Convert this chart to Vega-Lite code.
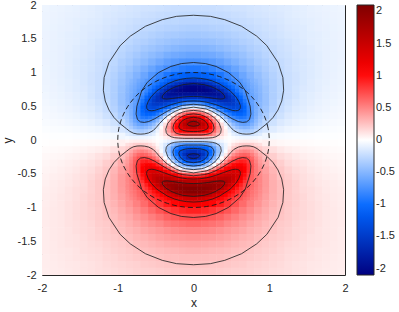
{
"$schema":"https://vega.github.io/schema/vega-lite/v6.json",
"width":303,"height":270,
"autosize":{"type":"none"},
"padding":{"left":42,"top":5,"right":54,"bottom":37},
"config":{
"font":"Liberation Sans",
"view":{"stroke":"#262626","strokeWidth":1},
"axis":{"grid":false,"ticks":false,"domain":false,"labelFont":"Liberation Sans","labelFontSize":11,"labelColor":"#262626","labelPadding":7,"titleFont":"Liberation Sans","titleFontSize":12,"titleFontWeight":"normal","titleColor":"#262626"},
"axisX":{"titlePadding":4},
"axisY":{"labelPadding":6,"titlePadding":3},
"legend":{"orient":"right","offset":12,"padding":0,"gradientLength":270,"gradientThickness":17,"gradientStrokeColor":"#262626","gradientStrokeWidth":1,"labelFont":"Liberation Sans","labelFontSize":11,"labelColor":"#262626","labelOffset":4},
"locale":{"number":{"decimal":".","thousands":",","grouping":[3],"currency":["$",""],"minus":"-"}}
},
"datasets":{
"coarse":[
{"y":1.9,"y2":2.008,"a":[-2,-1.9,-1.8,-1.7,-1.6,-1.5,-1.4,-1.3,-1.2,-1.1,-1,-0.9,-0.8,-0.7,-0.6,-0.5,-0.4,-0.3,-0.2,-0.1,0,0.1,0.2,0.3,0.4,0.5,0.6,0.7,0.8,0.9,1,1.1,1.2,1.3,1.4,1.5,1.6,1.7,1.8,1.9],"b":[-1.893,-1.793,-1.693,-1.593,-1.493,-1.393,-1.293,-1.193,-1.093,-0.993,-0.893,-0.793,-0.693,-0.593,-0.493,-0.393,-0.293,-0.193,-0.093,0.007,0.107,0.207,0.307,0.407,0.507,0.607,0.707,0.807,0.907,1.007,1.107,1.207,1.307,1.407,1.507,1.607,1.707,1.807,1.907,2.007],"v":[-0.071,-0.077,-0.084,-0.091,-0.099,-0.11,-0.12,-0.13,-0.14,-0.15,-0.16,-0.17,-0.18,-0.19,-0.195,-0.2,-0.21,-0.22,-0.22,-0.22,-0.22,-0.22,-0.22,-0.21,-0.2,-0.195,-0.19,-0.18,-0.17,-0.16,-0.15,-0.14,-0.13,-0.12,-0.11,-0.099,-0.091,-0.084,-0.077,-0.071]},
{"y":1.8,"y2":1.908,"a":[-2,-1.9,-1.8,-1.7,-1.6,-1.5,-1.4,-1.3,-1.2,-1.1,-1,-0.9,-0.8,-0.7,-0.6,-0.5,-0.4,-0.3,-0.2,-0.1,0,0.1,0.2,0.3,0.4,0.5,0.6,0.7,0.8,0.9,1,1.1,1.2,1.3,1.4,1.5,1.6,1.7,1.8,1.9],"b":[-1.893,-1.793,-1.693,-1.593,-1.493,-1.393,-1.293,-1.193,-1.093,-0.993,-0.893,-0.793,-0.693,-0.593,-0.493,-0.393,-0.293,-0.193,-0.093,0.007,0.107,0.207,0.307,0.407,0.507,0.607,0.707,0.807,0.907,1.007,1.107,1.207,1.307,1.407,1.507,1.607,1.707,1.807,1.907,2.007],"v":[-0.073,-0.08,-0.087,-0.095,-0.1,-0.11,-0.12,-0.13,-0.15,-0.16,-0.17,-0.18,-0.19,-0.21,-0.22,-0.23,-0.24,-0.24,-0.25,-0.25,-0.25,-0.25,-0.24,-0.24,-0.23,-0.22,-0.21,-0.19,-0.18,-0.17,-0.16,-0.15,-0.13,-0.12,-0.11,-0.1,-0.095,-0.087,-0.08,-0.073]},
{"y":1.7,"y2":1.808,"a":[-2,-1.9,-1.8,-1.7,-1.6,-1.5,-1.4,-1.3,-1.2,-1.1,-1,-0.9,-0.8,-0.7,-0.6,-0.5,-0.4,-0.3,-0.2,-0.1,0,0.1,0.2,0.3,0.4,0.5,0.6,0.7,0.8,0.9,1,1.1,1.2,1.3,1.4,1.5,1.6,1.7,1.8,1.9],"b":[-1.893,-1.793,-1.693,-1.593,-1.493,-1.393,-1.293,-1.193,-1.093,-0.993,-0.893,-0.793,-0.693,-0.593,-0.493,-0.393,-0.293,-0.193,-0.093,0.007,0.107,0.207,0.307,0.407,0.507,0.607,0.707,0.807,0.907,1.007,1.107,1.207,1.307,1.407,1.507,1.607,1.707,1.807,1.907,2.007],"v":[-0.075,-0.082,-0.091,-0.1,-0.11,-0.12,-0.13,-0.14,-0.16,-0.17,-0.19,-0.2,-0.22,-0.23,-0.24,-0.26,-0.27,-0.27,-0.28,-0.28,-0.28,-0.28,-0.27,-0.27,-0.26,-0.24,-0.23,-0.22,-0.2,-0.19,-0.17,-0.16,-0.14,-0.13,-0.12,-0.11,-0.1,-0.091,-0.082,-0.075]},
{"y":1.6,"y2":1.708,"a":[-2,-1.9,-1.8,-1.7,-1.6,-1.5,-1.4,-1.3,-1.2,-1.1,-1,-0.9,-0.8,-0.7,-0.6,-0.5,-0.4,-0.3,-0.2,-0.1,0,0.1,0.2,0.3,0.4,0.5,0.6,0.7,0.8,0.9,1,1.1,1.2,1.3,1.4,1.5,1.6,1.7,1.8,1.9],"b":[-1.893,-1.793,-1.693,-1.593,-1.493,-1.393,-1.293,-1.193,-1.093,-0.993,-0.893,-0.793,-0.693,-0.593,-0.493,-0.393,-0.293,-0.193,-0.093,0.007,0.107,0.207,0.307,0.407,0.507,0.607,0.707,0.807,0.907,1.007,1.107,1.207,1.307,1.407,1.507,1.607,1.707,1.807,1.907,2.007],"v":[-0.077,-0.085,-0.094,-0.1,-0.11,-0.13,-0.14,-0.15,-0.17,-0.19,-0.2,-0.22,-0.24,-0.26,-0.27,-0.29,-0.3,-0.31,-0.32,-0.33,-0.33,-0.32,-0.31,-0.3,-0.29,-0.27,-0.26,-0.24,-0.22,-0.2,-0.19,-0.17,-0.15,-0.14,-0.13,-0.11,-0.1,-0.094,-0.085,-0.077]},
{"y":1.5,"y2":1.608,"a":[-2,-1.9,-1.8,-1.7,-1.6,-1.5,-1.4,-1.3,-1.2,-1.1,-1,-0.9,-0.8,-0.7,-0.6,-0.5,-0.4,-0.3,-0.2,-0.1,0,0.1,0.2,0.3,0.4,0.5,0.6,0.7,0.8,0.9,1,1.1,1.2,1.3,1.4,1.5,1.6,1.7,1.8,1.9],"b":[-1.893,-1.793,-1.693,-1.593,-1.493,-1.393,-1.293,-1.193,-1.093,-0.993,-0.893,-0.793,-0.693,-0.593,-0.493,-0.393,-0.293,-0.193,-0.093,0.007,0.107,0.207,0.307,0.407,0.507,0.607,0.707,0.807,0.907,1.007,1.107,1.207,1.307,1.407,1.507,1.607,1.707,1.807,1.907,2.007],"v":[-0.079,-0.087,-0.097,-0.11,-0.12,-0.13,-0.15,-0.16,-0.18,-0.2,-0.22,-0.24,-0.27,-0.29,-0.31,-0.33,-0.35,-0.36,-0.37,-0.38,-0.38,-0.37,-0.36,-0.35,-0.33,-0.31,-0.29,-0.27,-0.24,-0.22,-0.2,-0.18,-0.16,-0.15,-0.13,-0.12,-0.11,-0.097,-0.087,-0.079]},
{"y":1.4,"y2":1.508,"a":[-2,-1.9,-1.8,-1.7,-1.6,-1.5,-1.4,-1.3,-1.2,-1.1,-1,-0.9,-0.8,-0.7,-0.6,-0.5,-0.4,-0.3,-0.2,-0.1,0,0.1,0.2,0.3,0.4,0.5,0.6,0.7,0.8,0.9,1,1.1,1.2,1.3,1.4,1.5,1.6,1.7,1.8,1.9],"b":[-1.893,-1.793,-1.693,-1.593,-1.493,-1.393,-1.293,-1.193,-1.093,-0.993,-0.893,-0.793,-0.693,-0.593,-0.493,-0.393,-0.293,-0.193,-0.093,0.007,0.107,0.207,0.307,0.407,0.507,0.607,0.707,0.807,0.907,1.007,1.107,1.207,1.307,1.407,1.507,1.607,1.707,1.807,1.907,2.007],"v":[-0.08,-0.089,-0.099,-0.11,-0.12,-0.14,-0.16,-0.18,-0.2,-0.22,-0.24,-0.27,-0.3,-0.32,-0.35,-0.38,-0.4,-0.42,-0.43,-0.44,-0.44,-0.43,-0.42,-0.4,-0.38,-0.35,-0.32,-0.3,-0.27,-0.24,-0.22,-0.2,-0.18,-0.16,-0.14,-0.12,-0.11,-0.099,-0.089,-0.08]},
{"y":1.3,"y2":1.408,"a":[-2,-1.9,-1.8,-1.7,-1.6,-1.5,-1.4,-1.3,-1.2,-1.1,-1,-0.9,-0.8,-0.7,-0.6,-0.5,-0.4,-0.3,-0.2,-0.1,0,0.1,0.2,0.3,0.4,0.5,0.6,0.7,0.8,0.9,1,1.1,1.2,1.3,1.4,1.5,1.6,1.7,1.8,1.9],"b":[-1.893,-1.793,-1.693,-1.593,-1.493,-1.393,-1.293,-1.193,-1.093,-0.993,-0.893,-0.793,-0.693,-0.593,-0.493,-0.393,-0.293,-0.193,-0.093,0.007,0.107,0.207,0.307,0.407,0.507,0.607,0.707,0.807,0.907,1.007,1.107,1.207,1.307,1.407,1.507,1.607,1.707,1.807,1.907,2.007],"v":[-0.08,-0.09,-0.1,-0.11,-0.13,-0.15,-0.16,-0.19,-0.21,-0.24,-0.27,-0.3,-0.33,-0.37,-0.4,-0.43,-0.46,-0.49,-0.51,-0.52,-0.52,-0.51,-0.49,-0.46,-0.43,-0.4,-0.37,-0.33,-0.3,-0.27,-0.24,-0.21,-0.19,-0.16,-0.15,-0.13,-0.11,-0.1,-0.09,-0.08]},
{"y":1.2,"y2":1.308,"a":[-2,-1.9,-1.8,-1.7,-1.6,-1.5,-1.4,-1.3,-1.2,-1.1,-1,-0.9,-0.8,-0.7,-0.6,-0.5,-0.4,-0.3,-0.2,-0.1,0,0.1,0.2,0.3,0.4,0.5,0.6,0.7,0.8,0.9,1,1.1,1.2,1.3,1.4,1.5,1.6,1.7,1.8,1.9],"b":[-1.893,-1.793,-1.693,-1.593,-1.493,-1.393,-1.293,-1.193,-1.093,-0.993,-0.893,-0.793,-0.693,-0.593,-0.493,-0.393,-0.293,-0.193,-0.093,0.007,0.107,0.207,0.307,0.407,0.507,0.607,0.707,0.807,0.907,1.007,1.107,1.207,1.307,1.407,1.507,1.607,1.707,1.807,1.907,2.007],"v":[-0.081,-0.091,-0.1,-0.12,-0.13,-0.15,-0.17,-0.2,-0.22,-0.26,-0.29,-0.33,-0.37,-0.42,-0.46,-0.5,-0.55,-0.58,-0.6,-0.62,-0.62,-0.6,-0.58,-0.55,-0.5,-0.46,-0.42,-0.37,-0.33,-0.29,-0.26,-0.22,-0.2,-0.17,-0.15,-0.13,-0.12,-0.1,-0.091,-0.081]},
{"y":1.1,"y2":1.208,"a":[-2,-1.9,-1.8,-1.7,-1.6,-1.5,-1.4,-1.3,-1.2,-1.1,-1,-0.9,-0.8,-0.7,-0.6,-0.5,-0.4,-0.3,-0.2,-0.1,0,0.1,0.2,0.3,0.4,0.5,0.6,0.7,0.8,0.9,1,1.1,1.2,1.3,1.4,1.5,1.6,1.7,1.8,1.9],"b":[-1.893,-1.793,-1.693,-1.593,-1.493,-1.393,-1.293,-1.193,-1.093,-0.993,-0.893,-0.793,-0.693,-0.593,-0.493,-0.393,-0.293,-0.193,-0.093,0.007,0.107,0.207,0.307,0.407,0.507,0.607,0.707,0.807,0.907,1.007,1.107,1.207,1.307,1.407,1.507,1.607,1.707,1.807,1.907,2.007],"v":[-0.08,-0.091,-0.1,-0.12,-0.14,-0.16,-0.18,-0.21,-0.24,-0.27,-0.32,-0.36,-0.42,-0.47,-0.53,-0.59,-0.65,-0.69,-0.73,-0.74,-0.74,-0.73,-0.69,-0.65,-0.59,-0.53,-0.47,-0.42,-0.36,-0.32,-0.27,-0.24,-0.21,-0.18,-0.16,-0.14,-0.12,-0.1,-0.091,-0.08]},
{"y":1,"y2":1.108,"a":[-2,-1.9,-1.8,-1.7,-1.6,-1.5,-1.4,-1.3,-1.2,-1.1,-1,-0.9,-0.8,-0.7,-0.6,-0.5,-0.4,-0.3,-0.2,-0.1,0,0.1,0.2,0.3,0.4,0.5,0.6,0.7,0.8,0.9,1,1.1,1.2,1.3,1.4,1.5,1.6,1.7,1.8,1.9],"b":[-1.893,-1.793,-1.693,-1.593,-1.493,-1.393,-1.293,-1.193,-1.093,-0.993,-0.893,-0.793,-0.693,-0.593,-0.493,-0.393,-0.293,-0.193,-0.093,0.007,0.107,0.207,0.307,0.407,0.507,0.607,0.707,0.807,0.907,1.007,1.107,1.207,1.307,1.407,1.507,1.607,1.707,1.807,1.907,2.007],"v":[-0.078,-0.09,-0.1,-0.12,-0.14,-0.16,-0.18,-0.21,-0.25,-0.29,-0.34,-0.4,-0.47,-0.54,-0.62,-0.7,-0.78,-0.84,-0.89,-0.92,-0.92,-0.89,-0.84,-0.78,-0.7,-0.62,-0.54,-0.47,-0.4,-0.34,-0.29,-0.25,-0.21,-0.18,-0.16,-0.14,-0.12,-0.1,-0.09,-0.078]},
{"y":0.9,"y2":1.008,"a":[-2,-1.9,-1.8,-1.7,-1.6,-1.5,-1.4,-1.3,-1.2,-1.1,-1,-0.9,-0.8,-0.7,-0.6,-0.5,-0.4,-0.3,-0.2,-0.1,0,0.1,0.2,0.3,0.4,0.5,0.6,0.7,0.8,0.9,1,1.1,1.2,1.3,1.4,1.5,1.6,1.7,1.8,1.9],"b":[-1.893,-1.793,-1.693,-1.593,-1.493,-1.393,-1.293,-1.193,-1.093,-0.993,-0.893,-0.793,-0.693,-0.593,-0.493,-0.393,-0.293,-0.193,-0.093,0.007,0.107,0.207,0.307,0.407,0.507,0.607,0.707,0.807,0.907,1.007,1.107,1.207,1.307,1.407,1.507,1.607,1.707,1.807,1.907,2.007],"v":[-0.076,-0.087,-0.1,-0.12,-0.14,-0.16,-0.19,-0.22,-0.26,-0.31,-0.37,-0.44,-0.52,-0.61,-0.72,-0.83,-0.94,-1.03,-1.09,-1.13,-1.13,-1.09,-1.03,-0.94,-0.83,-0.72,-0.61,-0.52,-0.44,-0.37,-0.31,-0.26,-0.22,-0.19,-0.16,-0.14,-0.12,-0.1,-0.087,-0.076]},
{"y":0.8,"y2":0.908,"a":[-2,-1.9,-1.8,-1.7,-1.6,-1.5,-1.4,-1.3,-1.2,-1.1,-1,0.9,1,1.1,1.2,1.3,1.4,1.5,1.6,1.7,1.8,1.9],"b":[-1.893,-1.793,-1.693,-1.593,-1.493,-1.393,-1.293,-1.193,-1.093,-0.993,-0.893,1.007,1.107,1.207,1.307,1.407,1.507,1.607,1.707,1.807,1.907,2.007],"v":[-0.073,-0.084,-0.098,-0.11,-0.13,-0.16,-0.19,-0.22,-0.27,-0.32,-0.39,-0.39,-0.32,-0.27,-0.22,-0.19,-0.16,-0.13,-0.11,-0.098,-0.084,-0.073]},
{"y":0.7,"y2":0.808,"a":[-2,-1.9,-1.8,-1.7,-1.6,-1.5,-1.4,-1.3,-1.2,-1.1,-1,0.9,1,1.1,1.2,1.3,1.4,1.5,1.6,1.7,1.8,1.9],"b":[-1.893,-1.793,-1.693,-1.593,-1.493,-1.393,-1.293,-1.193,-1.093,-0.993,-0.893,1.007,1.107,1.207,1.307,1.407,1.507,1.607,1.707,1.807,1.907,2.007],"v":[-0.068,-0.079,-0.092,-0.11,-0.13,-0.15,-0.18,-0.22,-0.27,-0.33,-0.41,-0.41,-0.33,-0.27,-0.22,-0.18,-0.15,-0.13,-0.11,-0.092,-0.079,-0.068]},
{"y":0.6,"y2":0.708,"a":[-2,-1.9,-1.8,-1.7,-1.6,-1.5,-1.4,-1.3,-1.2,-1.1,-1,0.9,1,1.1,1.2,1.3,1.4,1.5,1.6,1.7,1.8,1.9],"b":[-1.893,-1.793,-1.693,-1.593,-1.493,-1.393,-1.293,-1.193,-1.093,-0.993,-0.893,1.007,1.107,1.207,1.307,1.407,1.507,1.607,1.707,1.807,1.907,2.007],"v":[-0.062,-0.073,-0.085,-0.1,-0.12,-0.14,-0.18,-0.22,-0.27,-0.33,-0.42,-0.42,-0.33,-0.27,-0.22,-0.18,-0.14,-0.12,-0.1,-0.085,-0.073,-0.062]},
{"y":0.5,"y2":0.608,"a":[-2,-1.9,-1.8,-1.7,-1.6,-1.5,-1.4,-1.3,-1.2,-1.1,-1,0.9,1,1.1,1.2,1.3,1.4,1.5,1.6,1.7,1.8,1.9],"b":[-1.893,-1.793,-1.693,-1.593,-1.493,-1.393,-1.293,-1.193,-1.093,-0.993,-0.893,1.007,1.107,1.207,1.307,1.407,1.507,1.607,1.707,1.807,1.907,2.007],"v":[-0.055,-0.065,-0.076,-0.091,-0.11,-0.13,-0.16,-0.2,-0.25,-0.32,-0.42,-0.42,-0.32,-0.25,-0.2,-0.16,-0.13,-0.11,-0.091,-0.076,-0.065,-0.055]},
{"y":0.4,"y2":0.508,"a":[-2,-1.9,-1.8,-1.7,-1.6,-1.5,-1.4,-1.3,-1.2,-1.1,-1,0.9,1,1.1,1.2,1.3,1.4,1.5,1.6,1.7,1.8,1.9],"b":[-1.893,-1.793,-1.693,-1.593,-1.493,-1.393,-1.293,-1.193,-1.093,-0.993,-0.893,1.007,1.107,1.207,1.307,1.407,1.507,1.607,1.707,1.807,1.907,2.007],"v":[-0.047,-0.055,-0.066,-0.079,-0.095,-0.12,-0.14,-0.18,-0.23,-0.3,-0.39,-0.39,-0.3,-0.23,-0.18,-0.14,-0.12,-0.095,-0.079,-0.066,-0.055,-0.047]},
{"y":0.3,"y2":0.408,"a":[-2,-1.9,-1.8,-1.7,-1.6,-1.5,-1.4,-1.3,-1.2,-1.1,-1,0.9,1,1.1,1.2,1.3,1.4,1.5,1.6,1.7,1.8,1.9],"b":[-1.893,-1.793,-1.693,-1.593,-1.493,-1.393,-1.293,-1.193,-1.093,-0.993,-0.893,1.007,1.107,1.207,1.307,1.407,1.507,1.607,1.707,1.807,1.907,2.007],"v":[-0.038,-0.045,-0.054,-0.064,-0.078,-0.097,-0.12,-0.15,-0.2,-0.26,-0.35,-0.35,-0.26,-0.2,-0.15,-0.12,-0.097,-0.078,-0.064,-0.054,-0.045,-0.038]},
{"y":0.2,"y2":0.308,"a":[-2,-1.9,-1.8,-1.7,-1.6,-1.5,-1.4,-1.3,-1.2,-1.1,-1,0.9,1,1.1,1.2,1.3,1.4,1.5,1.6,1.7,1.8,1.9],"b":[-1.893,-1.793,-1.693,-1.593,-1.493,-1.393,-1.293,-1.193,-1.093,-0.993,-0.893,1.007,1.107,1.207,1.307,1.407,1.507,1.607,1.707,1.807,1.907,2.007],"v":[-0.028,-0.033,-0.039,-0.048,-0.058,-0.072,-0.091,-0.12,-0.15,-0.2,-0.27,-0.27,-0.2,-0.15,-0.12,-0.091,-0.072,-0.058,-0.048,-0.039,-0.033,-0.028]},
{"y":0.1,"y2":0.208,"a":[-2,-1.9,-1.8,-1.7,-1.6,-1.5,-1.4,-1.3,-1.2,-1.1,-1,0.9,1,1.1,1.2,1.3,1.4,1.5,1.6,1.7,1.8,1.9],"b":[-1.893,-1.793,-1.693,-1.593,-1.493,-1.393,-1.293,-1.193,-1.093,-0.993,-0.893,1.007,1.107,1.207,1.307,1.407,1.507,1.607,1.707,1.807,1.907,2.007],"v":[-0.017,-0.02,-0.024,-0.029,-0.036,-0.045,-0.056,-0.072,-0.095,-0.13,-0.17,-0.17,-0.13,-0.095,-0.072,-0.056,-0.045,-0.036,-0.029,-0.024,-0.02,-0.017]},
{"y":0,"y2":0.108,"a":[-2,-1.9,-1.8,-1.7,-1.6,-1.5,-1.4,-1.3,-1.2,-1.1,-1,0.9,1,1.1,1.2,1.3,1.4,1.5,1.6,1.7,1.8,1.9],"b":[-1.893,-1.793,-1.693,-1.593,-1.493,-1.393,-1.293,-1.193,-1.093,-0.993,-0.893,1.007,1.107,1.207,1.307,1.407,1.507,1.607,1.707,1.807,1.907,2.007],"v":[-0.006,-0.007,-0.008,-0.01,-0.012,-0.015,-0.019,-0.025,-0.032,-0.044,-0.06,-0.06,-0.044,-0.032,-0.025,-0.019,-0.015,-0.012,-0.01,-0.008,-0.007,-0.006]},
{"y":-0.1,"y2":0.008,"a":[-2,-1.9,-1.8,-1.7,-1.6,-1.5,-1.4,-1.3,-1.2,-1.1,-1,0.9,1,1.1,1.2,1.3,1.4,1.5,1.6,1.7,1.8,1.9],"b":[-1.893,-1.793,-1.693,-1.593,-1.493,-1.393,-1.293,-1.193,-1.093,-0.993,-0.893,1.007,1.107,1.207,1.307,1.407,1.507,1.607,1.707,1.807,1.907,2.007],"v":[0.006,0.007,0.008,0.01,0.012,0.015,0.019,0.025,0.032,0.044,0.06,0.06,0.044,0.032,0.025,0.019,0.015,0.012,0.01,0.008,0.007,0.006]},
{"y":-0.2,"y2":-0.092,"a":[-2,-1.9,-1.8,-1.7,-1.6,-1.5,-1.4,-1.3,-1.2,-1.1,-1,0.9,1,1.1,1.2,1.3,1.4,1.5,1.6,1.7,1.8,1.9],"b":[-1.893,-1.793,-1.693,-1.593,-1.493,-1.393,-1.293,-1.193,-1.093,-0.993,-0.893,1.007,1.107,1.207,1.307,1.407,1.507,1.607,1.707,1.807,1.907,2.007],"v":[0.017,0.02,0.024,0.029,0.036,0.045,0.056,0.072,0.095,0.13,0.17,0.17,0.13,0.095,0.072,0.056,0.045,0.036,0.029,0.024,0.02,0.017]},
{"y":-0.3,"y2":-0.192,"a":[-2,-1.9,-1.8,-1.7,-1.6,-1.5,-1.4,-1.3,-1.2,-1.1,-1,0.9,1,1.1,1.2,1.3,1.4,1.5,1.6,1.7,1.8,1.9],"b":[-1.893,-1.793,-1.693,-1.593,-1.493,-1.393,-1.293,-1.193,-1.093,-0.993,-0.893,1.007,1.107,1.207,1.307,1.407,1.507,1.607,1.707,1.807,1.907,2.007],"v":[0.028,0.033,0.039,0.048,0.058,0.072,0.091,0.12,0.15,0.2,0.27,0.27,0.2,0.15,0.12,0.091,0.072,0.058,0.048,0.039,0.033,0.028]},
{"y":-0.4,"y2":-0.292,"a":[-2,-1.9,-1.8,-1.7,-1.6,-1.5,-1.4,-1.3,-1.2,-1.1,-1,0.9,1,1.1,1.2,1.3,1.4,1.5,1.6,1.7,1.8,1.9],"b":[-1.893,-1.793,-1.693,-1.593,-1.493,-1.393,-1.293,-1.193,-1.093,-0.993,-0.893,1.007,1.107,1.207,1.307,1.407,1.507,1.607,1.707,1.807,1.907,2.007],"v":[0.038,0.045,0.054,0.064,0.078,0.097,0.12,0.15,0.2,0.26,0.35,0.35,0.26,0.2,0.15,0.12,0.097,0.078,0.064,0.054,0.045,0.038]},
{"y":-0.5,"y2":-0.392,"a":[-2,-1.9,-1.8,-1.7,-1.6,-1.5,-1.4,-1.3,-1.2,-1.1,-1,0.9,1,1.1,1.2,1.3,1.4,1.5,1.6,1.7,1.8,1.9],"b":[-1.893,-1.793,-1.693,-1.593,-1.493,-1.393,-1.293,-1.193,-1.093,-0.993,-0.893,1.007,1.107,1.207,1.307,1.407,1.507,1.607,1.707,1.807,1.907,2.007],"v":[0.047,0.055,0.066,0.079,0.095,0.12,0.14,0.18,0.23,0.3,0.39,0.39,0.3,0.23,0.18,0.14,0.12,0.095,0.079,0.066,0.055,0.047]},
{"y":-0.6,"y2":-0.492,"a":[-2,-1.9,-1.8,-1.7,-1.6,-1.5,-1.4,-1.3,-1.2,-1.1,-1,0.9,1,1.1,1.2,1.3,1.4,1.5,1.6,1.7,1.8,1.9],"b":[-1.893,-1.793,-1.693,-1.593,-1.493,-1.393,-1.293,-1.193,-1.093,-0.993,-0.893,1.007,1.107,1.207,1.307,1.407,1.507,1.607,1.707,1.807,1.907,2.007],"v":[0.055,0.065,0.076,0.091,0.11,0.13,0.16,0.2,0.25,0.32,0.42,0.42,0.32,0.25,0.2,0.16,0.13,0.11,0.091,0.076,0.065,0.055]},
{"y":-0.7,"y2":-0.592,"a":[-2,-1.9,-1.8,-1.7,-1.6,-1.5,-1.4,-1.3,-1.2,-1.1,-1,0.9,1,1.1,1.2,1.3,1.4,1.5,1.6,1.7,1.8,1.9],"b":[-1.893,-1.793,-1.693,-1.593,-1.493,-1.393,-1.293,-1.193,-1.093,-0.993,-0.893,1.007,1.107,1.207,1.307,1.407,1.507,1.607,1.707,1.807,1.907,2.007],"v":[0.062,0.073,0.085,0.1,0.12,0.14,0.18,0.22,0.27,0.33,0.42,0.42,0.33,0.27,0.22,0.18,0.14,0.12,0.1,0.085,0.073,0.062]},
{"y":-0.8,"y2":-0.692,"a":[-2,-1.9,-1.8,-1.7,-1.6,-1.5,-1.4,-1.3,-1.2,-1.1,-1,0.9,1,1.1,1.2,1.3,1.4,1.5,1.6,1.7,1.8,1.9],"b":[-1.893,-1.793,-1.693,-1.593,-1.493,-1.393,-1.293,-1.193,-1.093,-0.993,-0.893,1.007,1.107,1.207,1.307,1.407,1.507,1.607,1.707,1.807,1.907,2.007],"v":[0.068,0.079,0.092,0.11,0.13,0.15,0.18,0.22,0.27,0.33,0.41,0.41,0.33,0.27,0.22,0.18,0.15,0.13,0.11,0.092,0.079,0.068]},
{"y":-0.9,"y2":-0.792,"a":[-2,-1.9,-1.8,-1.7,-1.6,-1.5,-1.4,-1.3,-1.2,-1.1,-1,0.9,1,1.1,1.2,1.3,1.4,1.5,1.6,1.7,1.8,1.9],"b":[-1.893,-1.793,-1.693,-1.593,-1.493,-1.393,-1.293,-1.193,-1.093,-0.993,-0.893,1.007,1.107,1.207,1.307,1.407,1.507,1.607,1.707,1.807,1.907,2.007],"v":[0.073,0.084,0.098,0.11,0.13,0.16,0.19,0.22,0.27,0.32,0.39,0.39,0.32,0.27,0.22,0.19,0.16,0.13,0.11,0.098,0.084,0.073]},
{"y":-1,"y2":-0.892,"a":[-2,-1.9,-1.8,-1.7,-1.6,-1.5,-1.4,-1.3,-1.2,-1.1,-1,-0.9,-0.8,-0.7,-0.6,-0.5,-0.4,-0.3,-0.2,-0.1,0,0.1,0.2,0.3,0.4,0.5,0.6,0.7,0.8,0.9,1,1.1,1.2,1.3,1.4,1.5,1.6,1.7,1.8,1.9],"b":[-1.893,-1.793,-1.693,-1.593,-1.493,-1.393,-1.293,-1.193,-1.093,-0.993,-0.893,-0.793,-0.693,-0.593,-0.493,-0.393,-0.293,-0.193,-0.093,0.007,0.107,0.207,0.307,0.407,0.507,0.607,0.707,0.807,0.907,1.007,1.107,1.207,1.307,1.407,1.507,1.607,1.707,1.807,1.907,2.007],"v":[0.076,0.087,0.1,0.12,0.14,0.16,0.19,0.22,0.26,0.31,0.37,0.44,0.52,0.61,0.72,0.83,0.94,1.03,1.09,1.13,1.13,1.09,1.03,0.94,0.83,0.72,0.61,0.52,0.44,0.37,0.31,0.26,0.22,0.19,0.16,0.14,0.12,0.1,0.087,0.076]},
{"y":-1.1,"y2":-0.992,"a":[-2,-1.9,-1.8,-1.7,-1.6,-1.5,-1.4,-1.3,-1.2,-1.1,-1,-0.9,-0.8,-0.7,-0.6,-0.5,-0.4,-0.3,-0.2,-0.1,0,0.1,0.2,0.3,0.4,0.5,0.6,0.7,0.8,0.9,1,1.1,1.2,1.3,1.4,1.5,1.6,1.7,1.8,1.9],"b":[-1.893,-1.793,-1.693,-1.593,-1.493,-1.393,-1.293,-1.193,-1.093,-0.993,-0.893,-0.793,-0.693,-0.593,-0.493,-0.393,-0.293,-0.193,-0.093,0.007,0.107,0.207,0.307,0.407,0.507,0.607,0.707,0.807,0.907,1.007,1.107,1.207,1.307,1.407,1.507,1.607,1.707,1.807,1.907,2.007],"v":[0.078,0.09,0.1,0.12,0.14,0.16,0.18,0.21,0.25,0.29,0.34,0.4,0.47,0.54,0.62,0.7,0.78,0.84,0.89,0.92,0.92,0.89,0.84,0.78,0.7,0.62,0.54,0.47,0.4,0.34,0.29,0.25,0.21,0.18,0.16,0.14,0.12,0.1,0.09,0.078]},
{"y":-1.2,"y2":-1.092,"a":[-2,-1.9,-1.8,-1.7,-1.6,-1.5,-1.4,-1.3,-1.2,-1.1,-1,-0.9,-0.8,-0.7,-0.6,-0.5,-0.4,-0.3,-0.2,-0.1,0,0.1,0.2,0.3,0.4,0.5,0.6,0.7,0.8,0.9,1,1.1,1.2,1.3,1.4,1.5,1.6,1.7,1.8,1.9],"b":[-1.893,-1.793,-1.693,-1.593,-1.493,-1.393,-1.293,-1.193,-1.093,-0.993,-0.893,-0.793,-0.693,-0.593,-0.493,-0.393,-0.293,-0.193,-0.093,0.007,0.107,0.207,0.307,0.407,0.507,0.607,0.707,0.807,0.907,1.007,1.107,1.207,1.307,1.407,1.507,1.607,1.707,1.807,1.907,2.007],"v":[0.08,0.091,0.1,0.12,0.14,0.16,0.18,0.21,0.24,0.27,0.32,0.36,0.42,0.47,0.53,0.59,0.65,0.69,0.73,0.74,0.74,0.73,0.69,0.65,0.59,0.53,0.47,0.42,0.36,0.32,0.27,0.24,0.21,0.18,0.16,0.14,0.12,0.1,0.091,0.08]},
{"y":-1.3,"y2":-1.192,"a":[-2,-1.9,-1.8,-1.7,-1.6,-1.5,-1.4,-1.3,-1.2,-1.1,-1,-0.9,-0.8,-0.7,-0.6,-0.5,-0.4,-0.3,-0.2,-0.1,0,0.1,0.2,0.3,0.4,0.5,0.6,0.7,0.8,0.9,1,1.1,1.2,1.3,1.4,1.5,1.6,1.7,1.8,1.9],"b":[-1.893,-1.793,-1.693,-1.593,-1.493,-1.393,-1.293,-1.193,-1.093,-0.993,-0.893,-0.793,-0.693,-0.593,-0.493,-0.393,-0.293,-0.193,-0.093,0.007,0.107,0.207,0.307,0.407,0.507,0.607,0.707,0.807,0.907,1.007,1.107,1.207,1.307,1.407,1.507,1.607,1.707,1.807,1.907,2.007],"v":[0.081,0.091,0.1,0.12,0.13,0.15,0.17,0.2,0.22,0.26,0.29,0.33,0.37,0.42,0.46,0.5,0.55,0.58,0.6,0.62,0.62,0.6,0.58,0.55,0.5,0.46,0.42,0.37,0.33,0.29,0.26,0.22,0.2,0.17,0.15,0.13,0.12,0.1,0.091,0.081]},
{"y":-1.4,"y2":-1.292,"a":[-2,-1.9,-1.8,-1.7,-1.6,-1.5,-1.4,-1.3,-1.2,-1.1,-1,-0.9,-0.8,-0.7,-0.6,-0.5,-0.4,-0.3,-0.2,-0.1,0,0.1,0.2,0.3,0.4,0.5,0.6,0.7,0.8,0.9,1,1.1,1.2,1.3,1.4,1.5,1.6,1.7,1.8,1.9],"b":[-1.893,-1.793,-1.693,-1.593,-1.493,-1.393,-1.293,-1.193,-1.093,-0.993,-0.893,-0.793,-0.693,-0.593,-0.493,-0.393,-0.293,-0.193,-0.093,0.007,0.107,0.207,0.307,0.407,0.507,0.607,0.707,0.807,0.907,1.007,1.107,1.207,1.307,1.407,1.507,1.607,1.707,1.807,1.907,2.007],"v":[0.08,0.09,0.1,0.11,0.13,0.15,0.16,0.19,0.21,0.24,0.27,0.3,0.33,0.37,0.4,0.43,0.46,0.49,0.51,0.52,0.52,0.51,0.49,0.46,0.43,0.4,0.37,0.33,0.3,0.27,0.24,0.21,0.19,0.16,0.15,0.13,0.11,0.1,0.09,0.08]},
{"y":-1.5,"y2":-1.392,"a":[-2,-1.9,-1.8,-1.7,-1.6,-1.5,-1.4,-1.3,-1.2,-1.1,-1,-0.9,-0.8,-0.7,-0.6,-0.5,-0.4,-0.3,-0.2,-0.1,0,0.1,0.2,0.3,0.4,0.5,0.6,0.7,0.8,0.9,1,1.1,1.2,1.3,1.4,1.5,1.6,1.7,1.8,1.9],"b":[-1.893,-1.793,-1.693,-1.593,-1.493,-1.393,-1.293,-1.193,-1.093,-0.993,-0.893,-0.793,-0.693,-0.593,-0.493,-0.393,-0.293,-0.193,-0.093,0.007,0.107,0.207,0.307,0.407,0.507,0.607,0.707,0.807,0.907,1.007,1.107,1.207,1.307,1.407,1.507,1.607,1.707,1.807,1.907,2.007],"v":[0.08,0.089,0.099,0.11,0.12,0.14,0.16,0.18,0.2,0.22,0.24,0.27,0.3,0.32,0.35,0.38,0.4,0.42,0.43,0.44,0.44,0.43,0.42,0.4,0.38,0.35,0.32,0.3,0.27,0.24,0.22,0.2,0.18,0.16,0.14,0.12,0.11,0.099,0.089,0.08]},
{"y":-1.6,"y2":-1.492,"a":[-2,-1.9,-1.8,-1.7,-1.6,-1.5,-1.4,-1.3,-1.2,-1.1,-1,-0.9,-0.8,-0.7,-0.6,-0.5,-0.4,-0.3,-0.2,-0.1,0,0.1,0.2,0.3,0.4,0.5,0.6,0.7,0.8,0.9,1,1.1,1.2,1.3,1.4,1.5,1.6,1.7,1.8,1.9],"b":[-1.893,-1.793,-1.693,-1.593,-1.493,-1.393,-1.293,-1.193,-1.093,-0.993,-0.893,-0.793,-0.693,-0.593,-0.493,-0.393,-0.293,-0.193,-0.093,0.007,0.107,0.207,0.307,0.407,0.507,0.607,0.707,0.807,0.907,1.007,1.107,1.207,1.307,1.407,1.507,1.607,1.707,1.807,1.907,2.007],"v":[0.079,0.087,0.097,0.11,0.12,0.13,0.15,0.16,0.18,0.2,0.22,0.24,0.27,0.29,0.31,0.33,0.35,0.36,0.37,0.38,0.38,0.37,0.36,0.35,0.33,0.31,0.29,0.27,0.24,0.22,0.2,0.18,0.16,0.15,0.13,0.12,0.11,0.097,0.087,0.079]},
{"y":-1.7,"y2":-1.592,"a":[-2,-1.9,-1.8,-1.7,-1.6,-1.5,-1.4,-1.3,-1.2,-1.1,-1,-0.9,-0.8,-0.7,-0.6,-0.5,-0.4,-0.3,-0.2,-0.1,0,0.1,0.2,0.3,0.4,0.5,0.6,0.7,0.8,0.9,1,1.1,1.2,1.3,1.4,1.5,1.6,1.7,1.8,1.9],"b":[-1.893,-1.793,-1.693,-1.593,-1.493,-1.393,-1.293,-1.193,-1.093,-0.993,-0.893,-0.793,-0.693,-0.593,-0.493,-0.393,-0.293,-0.193,-0.093,0.007,0.107,0.207,0.307,0.407,0.507,0.607,0.707,0.807,0.907,1.007,1.107,1.207,1.307,1.407,1.507,1.607,1.707,1.807,1.907,2.007],"v":[0.077,0.085,0.094,0.1,0.11,0.13,0.14,0.15,0.17,0.19,0.2,0.22,0.24,0.26,0.27,0.29,0.3,0.31,0.32,0.33,0.33,0.32,0.31,0.3,0.29,0.27,0.26,0.24,0.22,0.2,0.19,0.17,0.15,0.14,0.13,0.11,0.1,0.094,0.085,0.077]},
{"y":-1.8,"y2":-1.692,"a":[-2,-1.9,-1.8,-1.7,-1.6,-1.5,-1.4,-1.3,-1.2,-1.1,-1,-0.9,-0.8,-0.7,-0.6,-0.5,-0.4,-0.3,-0.2,-0.1,0,0.1,0.2,0.3,0.4,0.5,0.6,0.7,0.8,0.9,1,1.1,1.2,1.3,1.4,1.5,1.6,1.7,1.8,1.9],"b":[-1.893,-1.793,-1.693,-1.593,-1.493,-1.393,-1.293,-1.193,-1.093,-0.993,-0.893,-0.793,-0.693,-0.593,-0.493,-0.393,-0.293,-0.193,-0.093,0.007,0.107,0.207,0.307,0.407,0.507,0.607,0.707,0.807,0.907,1.007,1.107,1.207,1.307,1.407,1.507,1.607,1.707,1.807,1.907,2.007],"v":[0.075,0.082,0.091,0.1,0.11,0.12,0.13,0.14,0.16,0.17,0.19,0.2,0.22,0.23,0.24,0.26,0.27,0.27,0.28,0.28,0.28,0.28,0.27,0.27,0.26,0.24,0.23,0.22,0.2,0.19,0.17,0.16,0.14,0.13,0.12,0.11,0.1,0.091,0.082,0.075]},
{"y":-1.9,"y2":-1.792,"a":[-2,-1.9,-1.8,-1.7,-1.6,-1.5,-1.4,-1.3,-1.2,-1.1,-1,-0.9,-0.8,-0.7,-0.6,-0.5,-0.4,-0.3,-0.2,-0.1,0,0.1,0.2,0.3,0.4,0.5,0.6,0.7,0.8,0.9,1,1.1,1.2,1.3,1.4,1.5,1.6,1.7,1.8,1.9],"b":[-1.893,-1.793,-1.693,-1.593,-1.493,-1.393,-1.293,-1.193,-1.093,-0.993,-0.893,-0.793,-0.693,-0.593,-0.493,-0.393,-0.293,-0.193,-0.093,0.007,0.107,0.207,0.307,0.407,0.507,0.607,0.707,0.807,0.907,1.007,1.107,1.207,1.307,1.407,1.507,1.607,1.707,1.807,1.907,2.007],"v":[0.073,0.08,0.087,0.095,0.1,0.11,0.12,0.13,0.15,0.16,0.17,0.18,0.19,0.21,0.22,0.23,0.24,0.24,0.25,0.25,0.25,0.25,0.24,0.24,0.23,0.22,0.21,0.19,0.18,0.17,0.16,0.15,0.13,0.12,0.11,0.1,0.095,0.087,0.08,0.073]},
{"y":-2,"y2":-1.892,"a":[-2,-1.9,-1.8,-1.7,-1.6,-1.5,-1.4,-1.3,-1.2,-1.1,-1,-0.9,-0.8,-0.7,-0.6,-0.5,-0.4,-0.3,-0.2,-0.1,0,0.1,0.2,0.3,0.4,0.5,0.6,0.7,0.8,0.9,1,1.1,1.2,1.3,1.4,1.5,1.6,1.7,1.8,1.9],"b":[-1.893,-1.793,-1.693,-1.593,-1.493,-1.393,-1.293,-1.193,-1.093,-0.993,-0.893,-0.793,-0.693,-0.593,-0.493,-0.393,-0.293,-0.193,-0.093,0.007,0.107,0.207,0.307,0.407,0.507,0.607,0.707,0.807,0.907,1.007,1.107,1.207,1.307,1.407,1.507,1.607,1.707,1.807,1.907,2.007],"v":[0.071,0.077,0.084,0.091,0.099,0.11,0.12,0.13,0.14,0.15,0.16,0.17,0.18,0.19,0.195,0.2,0.21,0.22,0.22,0.22,0.22,0.22,0.22,0.21,0.2,0.195,0.19,0.18,0.17,0.16,0.15,0.14,0.13,0.12,0.11,0.099,0.091,0.084,0.077,0.071]}
],
"fine":[
{"y":0.85,"y2":0.908,"a":[-0.9,-0.85,-0.8,-0.75,-0.7,-0.65,-0.6,-0.55,-0.5,-0.45,-0.4,-0.35,-0.3,-0.25,-0.2,-0.15,-0.1,-0.05,0,0.05,0.1,0.15,0.2,0.25,0.3,0.35,0.4,0.45,0.5,0.55,0.6,0.65,0.7,0.75,0.8,0.85],"b":[-0.843,-0.793,-0.743,-0.693,-0.643,-0.593,-0.543,-0.493,-0.443,-0.393,-0.343,-0.293,-0.243,-0.193,-0.143,-0.093,-0.043,0.007,0.057,0.107,0.157,0.207,0.257,0.307,0.357,0.407,0.457,0.507,0.557,0.607,0.657,0.707,0.757,0.807,0.857,0.907],"v":[-0.45,-0.49,-0.54,-0.59,-0.64,-0.7,-0.76,-0.82,-0.89,-0.96,-1.02,-1.11,-1.21,-1.29,-1.37,-1.44,-1.47,-1.5,-1.5,-1.47,-1.44,-1.37,-1.29,-1.21,-1.11,-1.02,-0.96,-0.89,-0.82,-0.76,-0.7,-0.64,-0.59,-0.54,-0.49,-0.45]},
{"y":0.8,"y2":0.858,"a":[-0.9,-0.85,-0.8,-0.75,-0.7,-0.65,-0.6,-0.55,-0.5,-0.45,-0.4,-0.35,-0.3,-0.25,-0.2,-0.15,-0.1,-0.05,0,0.05,0.1,0.15,0.2,0.25,0.3,0.35,0.4,0.45,0.5,0.55,0.6,0.65,0.7,0.75,0.8,0.85],"b":[-0.843,-0.793,-0.743,-0.693,-0.643,-0.593,-0.543,-0.493,-0.443,-0.393,-0.343,-0.293,-0.243,-0.193,-0.143,-0.093,-0.043,0.007,0.057,0.107,0.157,0.207,0.257,0.307,0.357,0.407,0.457,0.507,0.557,0.607,0.657,0.707,0.757,0.807,0.857,0.907],"v":[-0.46,-0.51,-0.56,-0.62,-0.68,-0.74,-0.81,-0.89,-0.97,-1.07,-1.2,-1.33,-1.45,-1.57,-1.67,-1.74,-1.79,-1.82,-1.82,-1.79,-1.74,-1.67,-1.57,-1.45,-1.33,-1.2,-1.07,-0.97,-0.89,-0.81,-0.74,-0.68,-0.62,-0.56,-0.51,-0.46]},
{"y":0.75,"y2":0.808,"a":[-0.9,-0.85,-0.8,-0.75,-0.7,-0.65,-0.6,-0.55,-0.5,-0.45,-0.4,-0.35,-0.3,-0.25,-0.2,-0.15,-0.1,-0.05,0,0.05,0.1,0.15,0.2,0.25,0.3,0.35,0.4,0.45,0.5,0.55,0.6,0.65,0.7,0.75,0.8,0.85],"b":[-0.843,-0.793,-0.743,-0.693,-0.643,-0.593,-0.543,-0.493,-0.443,-0.393,-0.343,-0.293,-0.243,-0.193,-0.143,-0.093,-0.043,0.007,0.057,0.107,0.157,0.207,0.257,0.307,0.357,0.407,0.457,0.507,0.557,0.607,0.657,0.707,0.757,0.807,0.857,0.907],"v":[-0.48,-0.53,-0.58,-0.64,-0.71,-0.79,-0.88,-0.98,-1.12,-1.27,-1.43,-1.59,-1.74,-1.85,-1.94,-2,-2.04,-2.06,-2.06,-2.04,-2,-1.94,-1.85,-1.74,-1.59,-1.43,-1.27,-1.12,-0.98,-0.88,-0.79,-0.71,-0.64,-0.58,-0.53,-0.48]},
{"y":0.7,"y2":0.758,"a":[-0.9,-0.85,-0.8,-0.75,-0.7,-0.65,-0.6,-0.55,-0.5,-0.45,-0.4,-0.35,-0.3,-0.25,-0.2,-0.15,-0.1,-0.05,0,0.05,0.1,0.15,0.2,0.25,0.3,0.35,0.4,0.45,0.5,0.55,0.6,0.65,0.7,0.75,0.8,0.85],"b":[-0.843,-0.793,-0.743,-0.693,-0.643,-0.593,-0.543,-0.493,-0.443,-0.393,-0.343,-0.293,-0.243,-0.193,-0.143,-0.093,-0.043,0.007,0.057,0.107,0.157,0.207,0.257,0.307,0.357,0.407,0.457,0.507,0.557,0.607,0.657,0.707,0.757,0.807,0.857,0.907],"v":[-0.49,-0.54,-0.6,-0.67,-0.75,-0.83,-0.96,-1.12,-1.3,-1.49,-1.67,-1.81,-1.93,-1.99,-2.04,-2.06,-2.07,-2.08,-2.08,-2.07,-2.06,-2.04,-1.99,-1.93,-1.81,-1.67,-1.49,-1.3,-1.12,-0.96,-0.83,-0.75,-0.67,-0.6,-0.54,-0.49]},
{"y":0.65,"y2":0.708,"a":[-0.9,-0.85,-0.8,-0.75,-0.7,-0.65,-0.6,-0.55,-0.5,-0.45,-0.4,-0.35,-0.3,-0.25,-0.2,-0.15,-0.1,-0.05,0,0.05,0.1,0.15,0.2,0.25,0.3,0.35,0.4,0.45,0.5,0.55,0.6,0.65,0.7,0.75,0.8,0.85],"b":[-0.843,-0.793,-0.743,-0.693,-0.643,-0.593,-0.543,-0.493,-0.443,-0.393,-0.343,-0.293,-0.243,-0.193,-0.143,-0.093,-0.043,0.007,0.057,0.107,0.157,0.207,0.257,0.307,0.357,0.407,0.457,0.507,0.557,0.607,0.657,0.707,0.757,0.807,0.857,0.907],"v":[-0.5,-0.55,-0.62,-0.7,-0.78,-0.92,-1.09,-1.28,-1.49,-1.67,-1.81,-1.89,-1.93,-1.94,-1.95,-1.93,-1.92,-1.92,-1.92,-1.92,-1.93,-1.95,-1.94,-1.93,-1.89,-1.81,-1.67,-1.49,-1.28,-1.09,-0.92,-0.78,-0.7,-0.62,-0.55,-0.5]},
{"y":0.6,"y2":0.658,"a":[-0.9,-0.85,-0.8,-0.75,-0.7,-0.65,-0.6,-0.55,-0.5,-0.45,-0.4,-0.35,-0.3,-0.25,-0.2,-0.15,-0.1,-0.05,0,0.05,0.1,0.15,0.2,0.25,0.3,0.35,0.4,0.45,0.5,0.55,0.6,0.65,0.7,0.75,0.8,0.85],"b":[-0.843,-0.793,-0.743,-0.693,-0.643,-0.593,-0.543,-0.493,-0.443,-0.393,-0.343,-0.293,-0.243,-0.193,-0.143,-0.093,-0.043,0.007,0.057,0.107,0.157,0.207,0.257,0.307,0.357,0.407,0.457,0.507,0.557,0.607,0.657,0.707,0.757,0.807,0.857,0.907],"v":[-0.5,-0.56,-0.64,-0.72,-0.85,-1.03,-1.23,-1.44,-1.61,-1.73,-1.79,-1.81,-1.79,-1.75,-1.71,-1.66,-1.64,-1.62,-1.62,-1.64,-1.66,-1.71,-1.75,-1.79,-1.81,-1.79,-1.73,-1.61,-1.44,-1.23,-1.03,-0.85,-0.72,-0.64,-0.56,-0.5]},
{"y":0.55,"y2":0.608,"a":[-0.9,-0.85,-0.8,-0.75,-0.7,-0.65,-0.6,-0.55,-0.5,-0.45,-0.4,-0.35,-0.3,-0.25,-0.2,-0.15,-0.1,-0.05,0,0.05,0.1,0.15,0.2,0.25,0.3,0.35,0.4,0.45,0.5,0.55,0.6,0.65,0.7,0.75,0.8,0.85],"b":[-0.843,-0.793,-0.743,-0.693,-0.643,-0.593,-0.543,-0.493,-0.443,-0.393,-0.343,-0.293,-0.243,-0.193,-0.143,-0.093,-0.043,0.007,0.057,0.107,0.157,0.207,0.257,0.307,0.357,0.407,0.457,0.507,0.557,0.607,0.657,0.707,0.757,0.807,0.857,0.907],"v":[-0.5,-0.56,-0.65,-0.76,-0.93,-1.13,-1.34,-1.51,-1.62,-1.66,-1.64,-1.6,-1.53,-1.45,-1.37,-1.3,-1.25,-1.22,-1.22,-1.25,-1.3,-1.37,-1.45,-1.53,-1.6,-1.64,-1.66,-1.62,-1.51,-1.34,-1.13,-0.93,-0.76,-0.65,-0.56,-0.5]},
{"y":0.5,"y2":0.558,"a":[-0.9,-0.85,-0.8,-0.75,-0.7,-0.65,-0.6,-0.55,-0.5,-0.45,-0.4,-0.35,-0.3,-0.25,-0.2,-0.15,-0.1,-0.05,0,0.05,0.1,0.15,0.2,0.25,0.3,0.35,0.4,0.45,0.5,0.55,0.6,0.65,0.7,0.75,0.8,0.85],"b":[-0.843,-0.793,-0.743,-0.693,-0.643,-0.593,-0.543,-0.493,-0.443,-0.393,-0.343,-0.293,-0.243,-0.193,-0.143,-0.093,-0.043,0.007,0.057,0.107,0.157,0.207,0.257,0.307,0.357,0.407,0.457,0.507,0.557,0.607,0.657,0.707,0.757,0.807,0.857,0.907],"v":[-0.49,-0.57,-0.66,-0.81,-1,-1.21,-1.38,-1.48,-1.51,-1.49,-1.42,-1.33,-1.21,-1.09,-0.96,-0.83,-0.75,-0.7,-0.7,-0.75,-0.83,-0.96,-1.09,-1.21,-1.33,-1.42,-1.49,-1.51,-1.48,-1.38,-1.21,-1,-0.81,-0.66,-0.57,-0.49]},
{"y":0.45,"y2":0.508,"a":[-0.9,-0.85,-0.8,-0.75,-0.7,-0.65,-0.6,-0.55,-0.5,-0.45,-0.4,-0.35,-0.3,-0.25,-0.2,-0.15,-0.1,-0.05,0,0.05,0.1,0.15,0.2,0.25,0.3,0.35,0.4,0.45,0.5,0.55,0.6,0.65,0.7,0.75,0.8,0.85],"b":[-0.843,-0.793,-0.743,-0.693,-0.643,-0.593,-0.543,-0.493,-0.443,-0.393,-0.343,-0.293,-0.243,-0.193,-0.143,-0.093,-0.043,0.007,0.057,0.107,0.157,0.207,0.257,0.307,0.357,0.407,0.457,0.507,0.557,0.607,0.657,0.707,0.757,0.807,0.857,0.907],"v":[-0.48,-0.56,-0.68,-0.85,-1.05,-1.23,-1.33,-1.37,-1.34,-1.26,-1.15,-1.01,-0.84,-0.64,-0.44,-0.29,-0.18,-0.13,-0.13,-0.18,-0.29,-0.44,-0.64,-0.84,-1.01,-1.15,-1.26,-1.34,-1.37,-1.33,-1.23,-1.05,-0.85,-0.68,-0.56,-0.48]},
{"y":0.4,"y2":0.458,"a":[-0.9,-0.85,-0.8,-0.75,-0.7,-0.65,-0.6,-0.55,-0.5,-0.45,-0.4,-0.35,-0.3,-0.25,-0.2,-0.15,-0.1,-0.05,0,0.05,0.1,0.15,0.2,0.25,0.3,0.35,0.4,0.45,0.5,0.55,0.6,0.65,0.7,0.75,0.8,0.85],"b":[-0.843,-0.793,-0.743,-0.693,-0.643,-0.593,-0.543,-0.493,-0.443,-0.393,-0.343,-0.293,-0.243,-0.193,-0.143,-0.093,-0.043,0.007,0.057,0.107,0.157,0.207,0.257,0.307,0.357,0.407,0.457,0.507,0.557,0.607,0.657,0.707,0.757,0.807,0.857,0.907],"v":[-0.47,-0.55,-0.7,-0.87,-1.05,-1.18,-1.22,-1.21,-1.13,-1.02,-0.85,-0.64,-0.4,-0.16,0.04,0.2,0.31,0.37,0.37,0.31,0.2,0.04,-0.16,-0.4,-0.64,-0.85,-1.02,-1.13,-1.21,-1.22,-1.18,-1.05,-0.87,-0.7,-0.55,-0.47]},
{"y":0.35,"y2":0.408,"a":[-0.9,-0.85,-0.8,-0.75,-0.7,-0.65,-0.6,-0.55,-0.5,-0.45,-0.4,-0.35,-0.3,-0.25,-0.2,-0.15,-0.1,-0.05,0,0.05,0.1,0.15,0.2,0.25,0.3,0.35,0.4,0.45,0.5,0.55,0.6,0.65,0.7,0.75,0.8,0.85],"b":[-0.843,-0.793,-0.743,-0.693,-0.643,-0.593,-0.543,-0.493,-0.443,-0.393,-0.343,-0.293,-0.243,-0.193,-0.143,-0.093,-0.043,0.007,0.057,0.107,0.157,0.207,0.257,0.307,0.357,0.407,0.457,0.507,0.557,0.607,0.657,0.707,0.757,0.807,0.857,0.907],"v":[-0.44,-0.55,-0.69,-0.86,-1.01,-1.07,-1.07,-1.02,-0.91,-0.75,-0.54,-0.27,-0.01,0.23,0.45,0.63,0.78,0.86,0.86,0.78,0.63,0.45,0.23,-0.01,-0.27,-0.54,-0.75,-0.91,-1.02,-1.07,-1.07,-1.01,-0.86,-0.69,-0.55,-0.44]},
{"y":0.3,"y2":0.358,"a":[-0.9,-0.85,-0.8,-0.75,-0.7,-0.65,-0.6,-0.55,-0.5,-0.45,-0.4,-0.35,-0.3,-0.25,-0.2,-0.15,-0.1,-0.05,0,0.05,0.1,0.15,0.2,0.25,0.3,0.35,0.4,0.45,0.5,0.55,0.6,0.65,0.7,0.75,0.8,0.85],"b":[-0.843,-0.793,-0.743,-0.693,-0.643,-0.593,-0.543,-0.493,-0.443,-0.393,-0.343,-0.293,-0.243,-0.193,-0.143,-0.093,-0.043,0.007,0.057,0.107,0.157,0.207,0.257,0.307,0.357,0.407,0.457,0.507,0.557,0.607,0.657,0.707,0.757,0.807,0.857,0.907],"v":[-0.41,-0.52,-0.67,-0.81,-0.91,-0.94,-0.9,-0.82,-0.69,-0.49,-0.23,0.03,0.28,0.55,0.82,1.06,1.25,1.35,1.35,1.25,1.06,0.82,0.55,0.28,0.03,-0.23,-0.49,-0.69,-0.82,-0.9,-0.94,-0.91,-0.81,-0.67,-0.52,-0.41]},
{"y":0.25,"y2":0.308,"a":[-0.9,-0.85,-0.8,-0.75,-0.7,-0.65,-0.6,-0.55,-0.5,-0.45,-0.4,-0.35,-0.3,-0.25,-0.2,-0.15,-0.1,-0.05,0,0.05,0.1,0.15,0.2,0.25,0.3,0.35,0.4,0.45,0.5,0.55,0.6,0.65,0.7,0.75,0.8,0.85],"b":[-0.843,-0.793,-0.743,-0.693,-0.643,-0.593,-0.543,-0.493,-0.443,-0.393,-0.343,-0.293,-0.243,-0.193,-0.143,-0.093,-0.043,0.007,0.057,0.107,0.157,0.207,0.257,0.307,0.357,0.407,0.457,0.507,0.557,0.607,0.657,0.707,0.757,0.807,0.857,0.907],"v":[-0.38,-0.48,-0.62,-0.73,-0.79,-0.79,-0.73,-0.63,-0.48,-0.26,-0.01,0.24,0.52,0.83,1.14,1.42,1.64,1.75,1.75,1.64,1.42,1.14,0.83,0.52,0.24,-0.01,-0.26,-0.48,-0.63,-0.73,-0.79,-0.79,-0.73,-0.62,-0.48,-0.38]},
{"y":0.2,"y2":0.258,"a":[-0.9,-0.85,-0.8,-0.75,-0.7,-0.65,-0.6,-0.55,-0.5,-0.45,-0.4,-0.35,-0.3,-0.25,-0.2,-0.15,-0.1,-0.05,0,0.05,0.1,0.15,0.2,0.25,0.3,0.35,0.4,0.45,0.5,0.55,0.6,0.65,0.7,0.75,0.8,0.85],"b":[-0.843,-0.793,-0.743,-0.693,-0.643,-0.593,-0.543,-0.493,-0.443,-0.393,-0.343,-0.293,-0.243,-0.193,-0.143,-0.093,-0.043,0.007,0.057,0.107,0.157,0.207,0.257,0.307,0.357,0.407,0.457,0.507,0.557,0.607,0.657,0.707,0.757,0.807,0.857,0.907],"v":[-0.33,-0.43,-0.54,-0.62,-0.65,-0.63,-0.57,-0.47,-0.3,-0.09,0.14,0.38,0.68,1.01,1.34,1.6,1.75,1.82,1.82,1.75,1.6,1.34,1.01,0.68,0.38,0.14,-0.09,-0.3,-0.47,-0.57,-0.63,-0.65,-0.62,-0.54,-0.43,-0.33]},
{"y":0.15,"y2":0.208,"a":[-0.9,-0.85,-0.8,-0.75,-0.7,-0.65,-0.6,-0.55,-0.5,-0.45,-0.4,-0.35,-0.3,-0.25,-0.2,-0.15,-0.1,-0.05,0,0.05,0.1,0.15,0.2,0.25,0.3,0.35,0.4,0.45,0.5,0.55,0.6,0.65,0.7,0.75,0.8,0.85],"b":[-0.843,-0.793,-0.743,-0.693,-0.643,-0.593,-0.543,-0.493,-0.443,-0.393,-0.343,-0.293,-0.243,-0.193,-0.143,-0.093,-0.043,0.007,0.057,0.107,0.157,0.207,0.257,0.307,0.357,0.407,0.457,0.507,0.557,0.607,0.657,0.707,0.757,0.807,0.857,0.907],"v":[-0.27,-0.35,-0.44,-0.49,-0.51,-0.48,-0.42,-0.32,-0.16,0.02,0.21,0.44,0.72,1.04,1.31,1.46,1.56,1.62,1.62,1.56,1.46,1.31,1.04,0.72,0.44,0.21,0.02,-0.16,-0.32,-0.42,-0.48,-0.51,-0.49,-0.44,-0.35,-0.27]},
{"y":0.1,"y2":0.158,"a":[-0.9,-0.85,-0.8,-0.75,-0.7,-0.65,-0.6,-0.55,-0.5,-0.45,-0.4,-0.35,-0.3,-0.25,-0.2,-0.15,-0.1,-0.05,0,0.05,0.1,0.15,0.2,0.25,0.3,0.35,0.4,0.45,0.5,0.55,0.6,0.65,0.7,0.75,0.8,0.85],"b":[-0.843,-0.793,-0.743,-0.693,-0.643,-0.593,-0.543,-0.493,-0.443,-0.393,-0.343,-0.293,-0.243,-0.193,-0.143,-0.093,-0.043,0.007,0.057,0.107,0.157,0.207,0.257,0.307,0.357,0.407,0.457,0.507,0.557,0.607,0.657,0.707,0.757,0.807,0.857,0.907],"v":[-0.21,-0.26,-0.32,-0.36,-0.36,-0.33,-0.28,-0.2,-0.08,0.06,0.21,0.41,0.65,0.89,1.05,1.15,1.22,1.25,1.25,1.22,1.15,1.05,0.89,0.65,0.41,0.21,0.06,-0.08,-0.2,-0.28,-0.33,-0.36,-0.36,-0.32,-0.26,-0.21]},
{"y":0.05,"y2":0.108,"a":[-0.9,-0.85,-0.8,-0.75,-0.7,-0.65,-0.6,-0.55,-0.5,-0.45,-0.4,-0.35,-0.3,-0.25,-0.2,-0.15,-0.1,-0.05,0,0.05,0.1,0.15,0.2,0.25,0.3,0.35,0.4,0.45,0.5,0.55,0.6,0.65,0.7,0.75,0.8,0.85],"b":[-0.843,-0.793,-0.743,-0.693,-0.643,-0.593,-0.543,-0.493,-0.443,-0.393,-0.343,-0.293,-0.243,-0.193,-0.143,-0.093,-0.043,0.007,0.057,0.107,0.157,0.207,0.257,0.307,0.357,0.407,0.457,0.507,0.557,0.607,0.657,0.707,0.757,0.807,0.857,0.907],"v":[-0.13,-0.16,-0.2,-0.21,-0.21,-0.2,-0.16,-0.11,-0.03,0.06,0.16,0.29,0.45,0.58,0.67,0.73,0.75,0.75,0.75,0.75,0.73,0.67,0.58,0.45,0.29,0.16,0.06,-0.03,-0.11,-0.16,-0.2,-0.21,-0.21,-0.2,-0.16,-0.13]},
{"y":0,"y2":0.058,"a":[-0.9,-0.85,-0.8,-0.75,-0.7,-0.65,-0.6,-0.55,-0.5,-0.45,-0.4,-0.35,-0.3,-0.25,-0.2,-0.15,-0.1,-0.05,0,0.05,0.1,0.15,0.2,0.25,0.3,0.35,0.4,0.45,0.5,0.55,0.6,0.65,0.7,0.75,0.8,0.85],"b":[-0.843,-0.793,-0.743,-0.693,-0.643,-0.593,-0.543,-0.493,-0.443,-0.393,-0.343,-0.293,-0.243,-0.193,-0.143,-0.093,-0.043,0.007,0.057,0.107,0.157,0.207,0.257,0.307,0.357,0.407,0.457,0.507,0.557,0.607,0.657,0.707,0.757,0.807,0.857,0.907],"v":[-0.04,-0.06,-0.07,-0.07,-0.07,-0.06,-0.05,-0.03,-0.01,0.02,0.06,0.1,0.16,0.2,0.23,0.25,0.25,0.25,0.25,0.25,0.25,0.23,0.2,0.16,0.1,0.06,0.02,-0.01,-0.03,-0.05,-0.06,-0.07,-0.07,-0.07,-0.06,-0.04]},
{"y":-0.05,"y2":0.008,"a":[-0.9,-0.85,-0.8,-0.75,-0.7,-0.65,-0.6,-0.55,-0.5,-0.45,-0.4,-0.35,-0.3,-0.25,-0.2,-0.15,-0.1,-0.05,0,0.05,0.1,0.15,0.2,0.25,0.3,0.35,0.4,0.45,0.5,0.55,0.6,0.65,0.7,0.75,0.8,0.85],"b":[-0.843,-0.793,-0.743,-0.693,-0.643,-0.593,-0.543,-0.493,-0.443,-0.393,-0.343,-0.293,-0.243,-0.193,-0.143,-0.093,-0.043,0.007,0.057,0.107,0.157,0.207,0.257,0.307,0.357,0.407,0.457,0.507,0.557,0.607,0.657,0.707,0.757,0.807,0.857,0.907],"v":[0.04,0.06,0.07,0.07,0.07,0.06,0.05,0.03,0.01,-0.02,-0.06,-0.1,-0.16,-0.2,-0.23,-0.25,-0.25,-0.25,-0.25,-0.25,-0.25,-0.23,-0.2,-0.16,-0.1,-0.06,-0.02,0.01,0.03,0.05,0.06,0.07,0.07,0.07,0.06,0.04]},
{"y":-0.1,"y2":-0.042,"a":[-0.9,-0.85,-0.8,-0.75,-0.7,-0.65,-0.6,-0.55,-0.5,-0.45,-0.4,-0.35,-0.3,-0.25,-0.2,-0.15,-0.1,-0.05,0,0.05,0.1,0.15,0.2,0.25,0.3,0.35,0.4,0.45,0.5,0.55,0.6,0.65,0.7,0.75,0.8,0.85],"b":[-0.843,-0.793,-0.743,-0.693,-0.643,-0.593,-0.543,-0.493,-0.443,-0.393,-0.343,-0.293,-0.243,-0.193,-0.143,-0.093,-0.043,0.007,0.057,0.107,0.157,0.207,0.257,0.307,0.357,0.407,0.457,0.507,0.557,0.607,0.657,0.707,0.757,0.807,0.857,0.907],"v":[0.13,0.16,0.2,0.21,0.21,0.2,0.16,0.11,0.03,-0.06,-0.16,-0.29,-0.45,-0.58,-0.67,-0.73,-0.75,-0.75,-0.75,-0.75,-0.73,-0.67,-0.58,-0.45,-0.29,-0.16,-0.06,0.03,0.11,0.16,0.2,0.21,0.21,0.2,0.16,0.13]},
{"y":-0.15,"y2":-0.092,"a":[-0.9,-0.85,-0.8,-0.75,-0.7,-0.65,-0.6,-0.55,-0.5,-0.45,-0.4,-0.35,-0.3,-0.25,-0.2,-0.15,-0.1,-0.05,0,0.05,0.1,0.15,0.2,0.25,0.3,0.35,0.4,0.45,0.5,0.55,0.6,0.65,0.7,0.75,0.8,0.85],"b":[-0.843,-0.793,-0.743,-0.693,-0.643,-0.593,-0.543,-0.493,-0.443,-0.393,-0.343,-0.293,-0.243,-0.193,-0.143,-0.093,-0.043,0.007,0.057,0.107,0.157,0.207,0.257,0.307,0.357,0.407,0.457,0.507,0.557,0.607,0.657,0.707,0.757,0.807,0.857,0.907],"v":[0.21,0.26,0.32,0.36,0.36,0.33,0.28,0.2,0.08,-0.06,-0.21,-0.41,-0.65,-0.89,-1.05,-1.15,-1.22,-1.25,-1.25,-1.22,-1.15,-1.05,-0.89,-0.65,-0.41,-0.21,-0.06,0.08,0.2,0.28,0.33,0.36,0.36,0.32,0.26,0.21]},
{"y":-0.2,"y2":-0.142,"a":[-0.9,-0.85,-0.8,-0.75,-0.7,-0.65,-0.6,-0.55,-0.5,-0.45,-0.4,-0.35,-0.3,-0.25,-0.2,-0.15,-0.1,-0.05,0,0.05,0.1,0.15,0.2,0.25,0.3,0.35,0.4,0.45,0.5,0.55,0.6,0.65,0.7,0.75,0.8,0.85],"b":[-0.843,-0.793,-0.743,-0.693,-0.643,-0.593,-0.543,-0.493,-0.443,-0.393,-0.343,-0.293,-0.243,-0.193,-0.143,-0.093,-0.043,0.007,0.057,0.107,0.157,0.207,0.257,0.307,0.357,0.407,0.457,0.507,0.557,0.607,0.657,0.707,0.757,0.807,0.857,0.907],"v":[0.27,0.35,0.44,0.49,0.51,0.48,0.42,0.32,0.16,-0.02,-0.21,-0.44,-0.72,-1.04,-1.31,-1.46,-1.56,-1.62,-1.62,-1.56,-1.46,-1.31,-1.04,-0.72,-0.44,-0.21,-0.02,0.16,0.32,0.42,0.48,0.51,0.49,0.44,0.35,0.27]},
{"y":-0.25,"y2":-0.192,"a":[-0.9,-0.85,-0.8,-0.75,-0.7,-0.65,-0.6,-0.55,-0.5,-0.45,-0.4,-0.35,-0.3,-0.25,-0.2,-0.15,-0.1,-0.05,0,0.05,0.1,0.15,0.2,0.25,0.3,0.35,0.4,0.45,0.5,0.55,0.6,0.65,0.7,0.75,0.8,0.85],"b":[-0.843,-0.793,-0.743,-0.693,-0.643,-0.593,-0.543,-0.493,-0.443,-0.393,-0.343,-0.293,-0.243,-0.193,-0.143,-0.093,-0.043,0.007,0.057,0.107,0.157,0.207,0.257,0.307,0.357,0.407,0.457,0.507,0.557,0.607,0.657,0.707,0.757,0.807,0.857,0.907],"v":[0.33,0.43,0.54,0.62,0.65,0.63,0.57,0.47,0.3,0.09,-0.14,-0.38,-0.68,-1.01,-1.34,-1.6,-1.75,-1.82,-1.82,-1.75,-1.6,-1.34,-1.01,-0.68,-0.38,-0.14,0.09,0.3,0.47,0.57,0.63,0.65,0.62,0.54,0.43,0.33]},
{"y":-0.3,"y2":-0.242,"a":[-0.9,-0.85,-0.8,-0.75,-0.7,-0.65,-0.6,-0.55,-0.5,-0.45,-0.4,-0.35,-0.3,-0.25,-0.2,-0.15,-0.1,-0.05,0,0.05,0.1,0.15,0.2,0.25,0.3,0.35,0.4,0.45,0.5,0.55,0.6,0.65,0.7,0.75,0.8,0.85],"b":[-0.843,-0.793,-0.743,-0.693,-0.643,-0.593,-0.543,-0.493,-0.443,-0.393,-0.343,-0.293,-0.243,-0.193,-0.143,-0.093,-0.043,0.007,0.057,0.107,0.157,0.207,0.257,0.307,0.357,0.407,0.457,0.507,0.557,0.607,0.657,0.707,0.757,0.807,0.857,0.907],"v":[0.38,0.48,0.62,0.73,0.79,0.79,0.73,0.63,0.48,0.26,0.01,-0.24,-0.52,-0.83,-1.14,-1.42,-1.64,-1.75,-1.75,-1.64,-1.42,-1.14,-0.83,-0.52,-0.24,0.01,0.26,0.48,0.63,0.73,0.79,0.79,0.73,0.62,0.48,0.38]},
{"y":-0.35,"y2":-0.292,"a":[-0.9,-0.85,-0.8,-0.75,-0.7,-0.65,-0.6,-0.55,-0.5,-0.45,-0.4,-0.35,-0.3,-0.25,-0.2,-0.15,-0.1,-0.05,0,0.05,0.1,0.15,0.2,0.25,0.3,0.35,0.4,0.45,0.5,0.55,0.6,0.65,0.7,0.75,0.8,0.85],"b":[-0.843,-0.793,-0.743,-0.693,-0.643,-0.593,-0.543,-0.493,-0.443,-0.393,-0.343,-0.293,-0.243,-0.193,-0.143,-0.093,-0.043,0.007,0.057,0.107,0.157,0.207,0.257,0.307,0.357,0.407,0.457,0.507,0.557,0.607,0.657,0.707,0.757,0.807,0.857,0.907],"v":[0.41,0.52,0.67,0.81,0.91,0.94,0.9,0.82,0.69,0.49,0.23,-0.03,-0.28,-0.55,-0.82,-1.06,-1.25,-1.35,-1.35,-1.25,-1.06,-0.82,-0.55,-0.28,-0.03,0.23,0.49,0.69,0.82,0.9,0.94,0.91,0.81,0.67,0.52,0.41]},
{"y":-0.4,"y2":-0.342,"a":[-0.9,-0.85,-0.8,-0.75,-0.7,-0.65,-0.6,-0.55,-0.5,-0.45,-0.4,-0.35,-0.3,-0.25,-0.2,-0.15,-0.1,-0.05,0,0.05,0.1,0.15,0.2,0.25,0.3,0.35,0.4,0.45,0.5,0.55,0.6,0.65,0.7,0.75,0.8,0.85],"b":[-0.843,-0.793,-0.743,-0.693,-0.643,-0.593,-0.543,-0.493,-0.443,-0.393,-0.343,-0.293,-0.243,-0.193,-0.143,-0.093,-0.043,0.007,0.057,0.107,0.157,0.207,0.257,0.307,0.357,0.407,0.457,0.507,0.557,0.607,0.657,0.707,0.757,0.807,0.857,0.907],"v":[0.44,0.55,0.69,0.86,1.01,1.07,1.07,1.02,0.91,0.75,0.54,0.27,0.01,-0.23,-0.45,-0.63,-0.78,-0.86,-0.86,-0.78,-0.63,-0.45,-0.23,0.01,0.27,0.54,0.75,0.91,1.02,1.07,1.07,1.01,0.86,0.69,0.55,0.44]},
{"y":-0.45,"y2":-0.392,"a":[-0.9,-0.85,-0.8,-0.75,-0.7,-0.65,-0.6,-0.55,-0.5,-0.45,-0.4,-0.35,-0.3,-0.25,-0.2,-0.15,-0.1,-0.05,0,0.05,0.1,0.15,0.2,0.25,0.3,0.35,0.4,0.45,0.5,0.55,0.6,0.65,0.7,0.75,0.8,0.85],"b":[-0.843,-0.793,-0.743,-0.693,-0.643,-0.593,-0.543,-0.493,-0.443,-0.393,-0.343,-0.293,-0.243,-0.193,-0.143,-0.093,-0.043,0.007,0.057,0.107,0.157,0.207,0.257,0.307,0.357,0.407,0.457,0.507,0.557,0.607,0.657,0.707,0.757,0.807,0.857,0.907],"v":[0.47,0.55,0.7,0.87,1.05,1.18,1.22,1.21,1.13,1.02,0.85,0.64,0.4,0.16,-0.04,-0.2,-0.31,-0.37,-0.37,-0.31,-0.2,-0.04,0.16,0.4,0.64,0.85,1.02,1.13,1.21,1.22,1.18,1.05,0.87,0.7,0.55,0.47]},
{"y":-0.5,"y2":-0.442,"a":[-0.9,-0.85,-0.8,-0.75,-0.7,-0.65,-0.6,-0.55,-0.5,-0.45,-0.4,-0.35,-0.3,-0.25,-0.2,-0.15,-0.1,-0.05,0,0.05,0.1,0.15,0.2,0.25,0.3,0.35,0.4,0.45,0.5,0.55,0.6,0.65,0.7,0.75,0.8,0.85],"b":[-0.843,-0.793,-0.743,-0.693,-0.643,-0.593,-0.543,-0.493,-0.443,-0.393,-0.343,-0.293,-0.243,-0.193,-0.143,-0.093,-0.043,0.007,0.057,0.107,0.157,0.207,0.257,0.307,0.357,0.407,0.457,0.507,0.557,0.607,0.657,0.707,0.757,0.807,0.857,0.907],"v":[0.48,0.56,0.68,0.85,1.05,1.23,1.33,1.37,1.34,1.26,1.15,1.01,0.84,0.64,0.44,0.29,0.18,0.13,0.13,0.18,0.29,0.44,0.64,0.84,1.01,1.15,1.26,1.34,1.37,1.33,1.23,1.05,0.85,0.68,0.56,0.48]},
{"y":-0.55,"y2":-0.492,"a":[-0.9,-0.85,-0.8,-0.75,-0.7,-0.65,-0.6,-0.55,-0.5,-0.45,-0.4,-0.35,-0.3,-0.25,-0.2,-0.15,-0.1,-0.05,0,0.05,0.1,0.15,0.2,0.25,0.3,0.35,0.4,0.45,0.5,0.55,0.6,0.65,0.7,0.75,0.8,0.85],"b":[-0.843,-0.793,-0.743,-0.693,-0.643,-0.593,-0.543,-0.493,-0.443,-0.393,-0.343,-0.293,-0.243,-0.193,-0.143,-0.093,-0.043,0.007,0.057,0.107,0.157,0.207,0.257,0.307,0.357,0.407,0.457,0.507,0.557,0.607,0.657,0.707,0.757,0.807,0.857,0.907],"v":[0.49,0.57,0.66,0.81,1,1.21,1.38,1.48,1.51,1.49,1.42,1.33,1.21,1.09,0.96,0.83,0.75,0.7,0.7,0.75,0.83,0.96,1.09,1.21,1.33,1.42,1.49,1.51,1.48,1.38,1.21,1,0.81,0.66,0.57,0.49]},
{"y":-0.6,"y2":-0.542,"a":[-0.9,-0.85,-0.8,-0.75,-0.7,-0.65,-0.6,-0.55,-0.5,-0.45,-0.4,-0.35,-0.3,-0.25,-0.2,-0.15,-0.1,-0.05,0,0.05,0.1,0.15,0.2,0.25,0.3,0.35,0.4,0.45,0.5,0.55,0.6,0.65,0.7,0.75,0.8,0.85],"b":[-0.843,-0.793,-0.743,-0.693,-0.643,-0.593,-0.543,-0.493,-0.443,-0.393,-0.343,-0.293,-0.243,-0.193,-0.143,-0.093,-0.043,0.007,0.057,0.107,0.157,0.207,0.257,0.307,0.357,0.407,0.457,0.507,0.557,0.607,0.657,0.707,0.757,0.807,0.857,0.907],"v":[0.5,0.56,0.65,0.76,0.93,1.13,1.34,1.51,1.62,1.66,1.64,1.6,1.53,1.45,1.37,1.3,1.25,1.22,1.22,1.25,1.3,1.37,1.45,1.53,1.6,1.64,1.66,1.62,1.51,1.34,1.13,0.93,0.76,0.65,0.56,0.5]},
{"y":-0.65,"y2":-0.592,"a":[-0.9,-0.85,-0.8,-0.75,-0.7,-0.65,-0.6,-0.55,-0.5,-0.45,-0.4,-0.35,-0.3,-0.25,-0.2,-0.15,-0.1,-0.05,0,0.05,0.1,0.15,0.2,0.25,0.3,0.35,0.4,0.45,0.5,0.55,0.6,0.65,0.7,0.75,0.8,0.85],"b":[-0.843,-0.793,-0.743,-0.693,-0.643,-0.593,-0.543,-0.493,-0.443,-0.393,-0.343,-0.293,-0.243,-0.193,-0.143,-0.093,-0.043,0.007,0.057,0.107,0.157,0.207,0.257,0.307,0.357,0.407,0.457,0.507,0.557,0.607,0.657,0.707,0.757,0.807,0.857,0.907],"v":[0.5,0.56,0.64,0.72,0.85,1.03,1.23,1.44,1.61,1.73,1.79,1.81,1.79,1.75,1.71,1.66,1.64,1.62,1.62,1.64,1.66,1.71,1.75,1.79,1.81,1.79,1.73,1.61,1.44,1.23,1.03,0.85,0.72,0.64,0.56,0.5]},
{"y":-0.7,"y2":-0.642,"a":[-0.9,-0.85,-0.8,-0.75,-0.7,-0.65,-0.6,-0.55,-0.5,-0.45,-0.4,-0.35,-0.3,-0.25,-0.2,-0.15,-0.1,-0.05,0,0.05,0.1,0.15,0.2,0.25,0.3,0.35,0.4,0.45,0.5,0.55,0.6,0.65,0.7,0.75,0.8,0.85],"b":[-0.843,-0.793,-0.743,-0.693,-0.643,-0.593,-0.543,-0.493,-0.443,-0.393,-0.343,-0.293,-0.243,-0.193,-0.143,-0.093,-0.043,0.007,0.057,0.107,0.157,0.207,0.257,0.307,0.357,0.407,0.457,0.507,0.557,0.607,0.657,0.707,0.757,0.807,0.857,0.907],"v":[0.5,0.55,0.62,0.7,0.78,0.92,1.09,1.28,1.49,1.67,1.81,1.89,1.93,1.94,1.95,1.93,1.92,1.92,1.92,1.92,1.93,1.95,1.94,1.93,1.89,1.81,1.67,1.49,1.28,1.09,0.92,0.78,0.7,0.62,0.55,0.5]},
{"y":-0.75,"y2":-0.692,"a":[-0.9,-0.85,-0.8,-0.75,-0.7,-0.65,-0.6,-0.55,-0.5,-0.45,-0.4,-0.35,-0.3,-0.25,-0.2,-0.15,-0.1,-0.05,0,0.05,0.1,0.15,0.2,0.25,0.3,0.35,0.4,0.45,0.5,0.55,0.6,0.65,0.7,0.75,0.8,0.85],"b":[-0.843,-0.793,-0.743,-0.693,-0.643,-0.593,-0.543,-0.493,-0.443,-0.393,-0.343,-0.293,-0.243,-0.193,-0.143,-0.093,-0.043,0.007,0.057,0.107,0.157,0.207,0.257,0.307,0.357,0.407,0.457,0.507,0.557,0.607,0.657,0.707,0.757,0.807,0.857,0.907],"v":[0.49,0.54,0.6,0.67,0.75,0.83,0.96,1.12,1.3,1.49,1.67,1.81,1.93,1.99,2.04,2.06,2.07,2.08,2.08,2.07,2.06,2.04,1.99,1.93,1.81,1.67,1.49,1.3,1.12,0.96,0.83,0.75,0.67,0.6,0.54,0.49]},
{"y":-0.8,"y2":-0.742,"a":[-0.9,-0.85,-0.8,-0.75,-0.7,-0.65,-0.6,-0.55,-0.5,-0.45,-0.4,-0.35,-0.3,-0.25,-0.2,-0.15,-0.1,-0.05,0,0.05,0.1,0.15,0.2,0.25,0.3,0.35,0.4,0.45,0.5,0.55,0.6,0.65,0.7,0.75,0.8,0.85],"b":[-0.843,-0.793,-0.743,-0.693,-0.643,-0.593,-0.543,-0.493,-0.443,-0.393,-0.343,-0.293,-0.243,-0.193,-0.143,-0.093,-0.043,0.007,0.057,0.107,0.157,0.207,0.257,0.307,0.357,0.407,0.457,0.507,0.557,0.607,0.657,0.707,0.757,0.807,0.857,0.907],"v":[0.48,0.53,0.58,0.64,0.71,0.79,0.88,0.98,1.12,1.27,1.43,1.59,1.74,1.85,1.94,2,2.04,2.06,2.06,2.04,2,1.94,1.85,1.74,1.59,1.43,1.27,1.12,0.98,0.88,0.79,0.71,0.64,0.58,0.53,0.48]},
{"y":-0.85,"y2":-0.792,"a":[-0.9,-0.85,-0.8,-0.75,-0.7,-0.65,-0.6,-0.55,-0.5,-0.45,-0.4,-0.35,-0.3,-0.25,-0.2,-0.15,-0.1,-0.05,0,0.05,0.1,0.15,0.2,0.25,0.3,0.35,0.4,0.45,0.5,0.55,0.6,0.65,0.7,0.75,0.8,0.85],"b":[-0.843,-0.793,-0.743,-0.693,-0.643,-0.593,-0.543,-0.493,-0.443,-0.393,-0.343,-0.293,-0.243,-0.193,-0.143,-0.093,-0.043,0.007,0.057,0.107,0.157,0.207,0.257,0.307,0.357,0.407,0.457,0.507,0.557,0.607,0.657,0.707,0.757,0.807,0.857,0.907],"v":[0.46,0.51,0.56,0.62,0.68,0.74,0.81,0.89,0.97,1.07,1.2,1.33,1.45,1.57,1.67,1.74,1.79,1.82,1.82,1.79,1.74,1.67,1.57,1.45,1.33,1.2,1.07,0.97,0.89,0.81,0.74,0.68,0.62,0.56,0.51,0.46]},
{"y":-0.9,"y2":-0.842,"a":[-0.9,-0.85,-0.8,-0.75,-0.7,-0.65,-0.6,-0.55,-0.5,-0.45,-0.4,-0.35,-0.3,-0.25,-0.2,-0.15,-0.1,-0.05,0,0.05,0.1,0.15,0.2,0.25,0.3,0.35,0.4,0.45,0.5,0.55,0.6,0.65,0.7,0.75,0.8,0.85],"b":[-0.843,-0.793,-0.743,-0.693,-0.643,-0.593,-0.543,-0.493,-0.443,-0.393,-0.343,-0.293,-0.243,-0.193,-0.143,-0.093,-0.043,0.007,0.057,0.107,0.157,0.207,0.257,0.307,0.357,0.407,0.457,0.507,0.557,0.607,0.657,0.707,0.757,0.807,0.857,0.907],"v":[0.45,0.49,0.54,0.59,0.64,0.7,0.76,0.82,0.89,0.96,1.02,1.11,1.21,1.29,1.37,1.44,1.47,1.5,1.5,1.47,1.44,1.37,1.29,1.21,1.11,1.02,0.96,0.89,0.82,0.76,0.7,0.64,0.59,0.54,0.49,0.45]}
],
"cont":[
{"c":"o25u","x":[0,0.167,0.243,0.34,0.39,0.447,0.49,0.532,0.591,0.644,0.695,0.745,0.794,0.84,0.885,0.97,1.049,1.115,1.165,1.19,1.18,1.117,0.968,0.834,0.634,0.412,0.223,0,-0.223,-0.412,-0.634,-0.834,-0.968,-1.117,-1.18,-1.19,-1.165,-1.115,-1.049,-0.97,-0.885,-0.84,-0.794,-0.745,-0.695,-0.644,-0.591,-0.532,-0.49,-0.447,-0.39,-0.34,-0.243,-0.167,0],"y":[0.487,0.459,0.425,0.36,0.313,0.245,0.188,0.14,0.105,0.091,0.087,0.089,0.101,0.128,0.167,0.243,0.332,0.443,0.577,0.737,0.926,1.146,1.398,1.539,1.685,1.783,1.832,1.848,1.832,1.783,1.685,1.539,1.398,1.146,0.926,0.737,0.577,0.443,0.332,0.243,0.167,0.128,0.101,0.089,0.087,0.091,0.105,0.14,0.188,0.245,0.313,0.36,0.425,0.459,0.487]},
{"c":"o25l","x":[0,0.167,0.243,0.34,0.39,0.447,0.49,0.532,0.591,0.644,0.695,0.745,0.794,0.84,0.885,0.97,1.049,1.115,1.165,1.19,1.18,1.117,0.968,0.834,0.634,0.412,0.223,0,-0.223,-0.412,-0.634,-0.834,-0.968,-1.117,-1.18,-1.19,-1.165,-1.115,-1.049,-0.97,-0.885,-0.84,-0.794,-0.745,-0.695,-0.644,-0.591,-0.532,-0.49,-0.447,-0.39,-0.34,-0.243,-0.167,0],"y":[-0.487,-0.459,-0.425,-0.36,-0.313,-0.245,-0.188,-0.14,-0.105,-0.091,-0.087,-0.089,-0.101,-0.128,-0.167,-0.243,-0.332,-0.443,-0.577,-0.737,-0.926,-1.146,-1.398,-1.539,-1.685,-1.783,-1.832,-1.848,-1.832,-1.783,-1.685,-1.539,-1.398,-1.146,-0.926,-0.737,-0.577,-0.443,-0.332,-0.243,-0.167,-0.128,-0.101,-0.089,-0.087,-0.091,-0.105,-0.14,-0.188,-0.245,-0.313,-0.36,-0.425,-0.459,-0.487]},
{"c":"o75u","x":[0,0.142,0.205,0.272,0.354,0.454,0.511,0.59,0.65,0.7,0.74,0.758,0.748,0.711,0.685,0.61,0.463,0.298,0.16,0,-0.16,-0.298,-0.463,-0.61,-0.685,-0.711,-0.748,-0.758,-0.74,-0.7,-0.65,-0.59,-0.511,-0.454,-0.354,-0.272,-0.205,-0.142,0],"y":[0.53,0.513,0.494,0.467,0.421,0.354,0.315,0.274,0.26,0.268,0.305,0.384,0.5,0.631,0.728,0.855,0.998,1.09,1.132,1.148,1.132,1.09,0.998,0.855,0.728,0.631,0.5,0.384,0.305,0.268,0.26,0.274,0.315,0.354,0.421,0.467,0.494,0.513,0.53]},
{"c":"o75l","x":[0,0.142,0.205,0.272,0.354,0.454,0.511,0.59,0.65,0.7,0.74,0.758,0.748,0.711,0.685,0.61,0.463,0.298,0.16,0,-0.16,-0.298,-0.463,-0.61,-0.685,-0.711,-0.748,-0.758,-0.74,-0.7,-0.65,-0.59,-0.511,-0.454,-0.354,-0.272,-0.205,-0.142,0],"y":[-0.53,-0.513,-0.494,-0.467,-0.421,-0.354,-0.315,-0.274,-0.26,-0.268,-0.305,-0.384,-0.5,-0.631,-0.728,-0.855,-0.998,-1.09,-1.132,-1.148,-1.132,-1.09,-0.998,-0.855,-0.728,-0.631,-0.5,-0.384,-0.305,-0.268,-0.26,-0.274,-0.315,-0.354,-0.421,-0.467,-0.494,-0.513,-0.53]},
{"c":"o125u","x":[0,0.08,0.167,0.219,0.292,0.397,0.463,0.512,0.55,0.579,0.603,0.616,0.618,0.6,0.559,0.484,0.34,0.246,0.169,0.093,0,-0.093,-0.169,-0.246,-0.34,-0.484,-0.559,-0.6,-0.618,-0.616,-0.603,-0.579,-0.55,-0.512,-0.463,-0.397,-0.292,-0.219,-0.167,-0.08,0],"y":[0.579,0.575,0.561,0.548,0.525,0.482,0.456,0.439,0.433,0.436,0.446,0.47,0.508,0.567,0.64,0.729,0.833,0.876,0.899,0.913,0.919,0.913,0.899,0.876,0.833,0.729,0.64,0.567,0.508,0.47,0.446,0.436,0.433,0.439,0.456,0.482,0.525,0.548,0.561,0.575,0.579]},
{"c":"o125l","x":[0,0.08,0.167,0.219,0.292,0.397,0.463,0.512,0.55,0.579,0.603,0.616,0.618,0.6,0.559,0.484,0.34,0.246,0.169,0.093,0,-0.093,-0.169,-0.246,-0.34,-0.484,-0.559,-0.6,-0.618,-0.616,-0.603,-0.579,-0.55,-0.512,-0.463,-0.397,-0.292,-0.219,-0.167,-0.08,0],"y":[-0.579,-0.575,-0.561,-0.548,-0.525,-0.482,-0.456,-0.439,-0.433,-0.436,-0.446,-0.47,-0.508,-0.567,-0.64,-0.729,-0.833,-0.876,-0.899,-0.913,-0.919,-0.913,-0.899,-0.876,-0.833,-0.729,-0.64,-0.567,-0.508,-0.47,-0.446,-0.436,-0.433,-0.439,-0.456,-0.482,-0.525,-0.548,-0.561,-0.575,-0.579]},
{"c":"o175u","x":[0,0.071,0.119,0.2,0.277,0.35,0.392,0.415,0.408,0.367,0.297,0.227,0.139,0,-0.139,-0.227,-0.297,-0.367,-0.408,-0.415,-0.392,-0.35,-0.277,-0.2,-0.119,-0.071,0],"y":[0.645,0.643,0.639,0.629,0.615,0.606,0.61,0.625,0.659,0.711,0.759,0.793,0.82,0.836,0.82,0.793,0.759,0.711,0.659,0.625,0.61,0.606,0.615,0.629,0.639,0.643,0.645]},
{"c":"o175l","x":[0,0.071,0.119,0.2,0.277,0.35,0.392,0.415,0.408,0.367,0.297,0.227,0.139,0,-0.139,-0.227,-0.297,-0.367,-0.408,-0.415,-0.392,-0.35,-0.277,-0.2,-0.119,-0.071,0],"y":[-0.645,-0.643,-0.639,-0.629,-0.615,-0.606,-0.61,-0.625,-0.659,-0.711,-0.759,-0.793,-0.82,-0.836,-0.82,-0.793,-0.759,-0.711,-0.659,-0.625,-0.61,-0.606,-0.615,-0.629,-0.639,-0.643,-0.645]},
{"c":"i25u","x":[0,0.1225,0.148,0.198,0.248,0.296,0.341,0.359,0.366,0.341,0.283,0.207,0.144,0.106,0,-0.106,-0.144,-0.207,-0.283,-0.341,-0.366,-0.359,-0.341,-0.296,-0.248,-0.198,-0.148,-0.1225,0],"y":[0.025,0.025,0.026,0.029,0.034,0.048,0.078,0.108,0.161,0.245,0.324,0.383,0.413,0.425,0.439,0.425,0.413,0.383,0.324,0.245,0.161,0.108,0.078,0.048,0.034,0.029,0.026,0.025,0.025]},
{"c":"i25l","x":[0,0.1225,0.148,0.198,0.248,0.296,0.341,0.359,0.366,0.341,0.283,0.207,0.144,0.106,0,-0.106,-0.144,-0.207,-0.283,-0.341,-0.366,-0.359,-0.341,-0.296,-0.248,-0.198,-0.148,-0.1225,0],"y":[-0.025,-0.025,-0.026,-0.029,-0.034,-0.048,-0.078,-0.108,-0.161,-0.245,-0.324,-0.383,-0.413,-0.425,-0.439,-0.425,-0.413,-0.383,-0.324,-0.245,-0.161,-0.108,-0.078,-0.048,-0.034,-0.029,-0.026,-0.025,-0.025]},
{"c":"i75u","x":[0,0.066,0.1,0.128,0.155,0.18,0.205,0.229,0.249,0.264,0.271,0.26,0.231,0.19,0.133,0.087,0,-0.087,-0.133,-0.19,-0.231,-0.26,-0.271,-0.264,-0.249,-0.229,-0.205,-0.18,-0.155,-0.128,-0.1,-0.066,0],"y":[0.075,0.075,0.075,0.078,0.081,0.086,0.092,0.101,0.117,0.143,0.179,0.235,0.282,0.323,0.358,0.375,0.387,0.375,0.358,0.323,0.282,0.235,0.179,0.143,0.117,0.101,0.092,0.086,0.081,0.078,0.075,0.075,0.075]},
{"c":"i75l","x":[0,0.066,0.1,0.128,0.155,0.18,0.205,0.229,0.249,0.264,0.271,0.26,0.231,0.19,0.133,0.087,0,-0.087,-0.133,-0.19,-0.231,-0.26,-0.271,-0.264,-0.249,-0.229,-0.205,-0.18,-0.155,-0.128,-0.1,-0.066,0],"y":[-0.075,-0.075,-0.075,-0.078,-0.081,-0.086,-0.092,-0.101,-0.117,-0.143,-0.179,-0.235,-0.282,-0.323,-0.358,-0.375,-0.387,-0.375,-0.358,-0.323,-0.282,-0.235,-0.179,-0.143,-0.117,-0.101,-0.092,-0.086,-0.081,-0.078,-0.075,-0.075,-0.075]},
{"c":"i125u","x":[0,0.032,0.057,0.076,0.111,0.139,0.164,0.184,0.194,0.184,0.159,0.128,0.085,0,-0.085,-0.128,-0.159,-0.184,-0.194,-0.184,-0.164,-0.139,-0.111,-0.076,-0.057,-0.032,0],"y":[0.125,0.126,0.128,0.129,0.135,0.144,0.154,0.169,0.195,0.237,0.272,0.299,0.321,0.337,0.321,0.299,0.272,0.237,0.195,0.169,0.154,0.144,0.135,0.129,0.128,0.126,0.125]},
{"c":"i125l","x":[0,0.032,0.057,0.076,0.111,0.139,0.164,0.184,0.194,0.184,0.159,0.128,0.085,0,-0.085,-0.128,-0.159,-0.184,-0.194,-0.184,-0.164,-0.139,-0.111,-0.076,-0.057,-0.032,0],"y":[-0.125,-0.126,-0.128,-0.129,-0.135,-0.144,-0.154,-0.169,-0.195,-0.237,-0.272,-0.299,-0.321,-0.337,-0.321,-0.299,-0.272,-0.237,-0.195,-0.169,-0.154,-0.144,-0.135,-0.129,-0.128,-0.126,-0.125]},
{"c":"i175u","x":[0,0.031,0.066,0.075,0.081,0.068,0.048,0,-0.048,-0.068,-0.081,-0.075,-0.066,-0.031,0],"y":[0.203,0.208,0.215,0.228,0.237,0.251,0.266,0.276,0.266,0.251,0.237,0.228,0.215,0.208,0.203]},
{"c":"i175l","x":[0,0.031,0.066,0.075,0.081,0.068,0.048,0,-0.048,-0.068,-0.081,-0.075,-0.066,-0.031,0],"y":[-0.203,-0.208,-0.215,-0.228,-0.237,-0.251,-0.266,-0.276,-0.266,-0.251,-0.237,-0.228,-0.215,-0.208,-0.203]}
],
"circ":[
{"c":"circle","x":[1,0.985,0.94,0.866,0.766,0.643,0.5,0.342,0.174,0,-0.174,-0.342,-0.5,-0.643,-0.766,-0.866,-0.94,-0.985,-1,-0.985,-0.94,-0.866,-0.766,-0.643,-0.5,-0.342,-0.174,0,0.174,0.342,0.5,0.643,0.766,0.866,0.94,0.985],"y":[0,0.174,0.342,0.5,0.643,0.766,0.866,0.94,0.985,1,0.985,0.94,0.866,0.766,0.643,0.5,0.342,0.174,0,-0.174,-0.342,-0.5,-0.643,-0.766,-0.866,-0.94,-0.985,-1,-0.985,-0.94,-0.866,-0.766,-0.643,-0.5,-0.342,-0.174]}
]
},
"layer":[
{
"data":{"name":"coarse"},
"transform":[{"flatten":["a","b","v"]}],
"mark":{"type":"rect","clip":true},
"encoding":{
"x":{"field":"a","type":"quantitative","scale":{"domain":[-2,2],"nice":false,"zero":false},"axis":{"values":[-2,-1,0,1,2],"title":"x","labelFlush":false,"labelOverlap":false,"format":"d"}},
"x2":{"field":"b"},
"y":{"field":"y","type":"quantitative","scale":{"domain":[-2,2],"nice":false,"zero":false},"axis":{"values":[-2,-1.5,-1,-0.5,0,0.5,1,1.5,2],"title":"y","labelFlush":false,"labelOverlap":false,"format":".1~f"}},
"y2":{"field":"y2"},
"color":{"field":"v","type":"quantitative","scale":{"type":"linear","domain":[-2.1,-1.05,0,1.05,2.1],"range":["#000080","#0066ff","#ffffff","#ff0000","#800000"],"interpolate":"rgb","clamp":true},"legend":{"type":"gradient","title":null,"values":[-2,-1.5,-1,-0.5,0,0.5,1,1.5,2],"labelOverlap":false,"format":".1~f","direction":"vertical"}}
}
},
{
"data":{"name":"fine"},
"transform":[{"flatten":["a","b","v"]}],
"mark":{"type":"rect","clip":true},
"encoding":{
"x":{"field":"a","type":"quantitative","scale":{"domain":[-2,2],"nice":false,"zero":false},"axis":{"values":[-2,-1,0,1,2],"title":"x","labelFlush":false,"labelOverlap":false,"format":"d"}},
"x2":{"field":"b"},
"y":{"field":"y","type":"quantitative","scale":{"domain":[-2,2],"nice":false,"zero":false},"axis":{"values":[-2,-1.5,-1,-0.5,0,0.5,1,1.5,2],"title":"y","labelFlush":false,"labelOverlap":false,"format":".1~f"}},
"y2":{"field":"y2"},
"color":{"field":"v","type":"quantitative","scale":{"type":"linear","domain":[-2.1,-1.05,0,1.05,2.1],"range":["#000080","#0066ff","#ffffff","#ff0000","#800000"],"interpolate":"rgb","clamp":true},"legend":{"type":"gradient","title":null,"values":[-2,-1.5,-1,-0.5,0,0.5,1,1.5,2],"labelOverlap":false,"format":".1~f","direction":"vertical"}}
}
},
{
"data":{"name":"cont"},
"transform":[{"flatten":["x","y"]},{"window":[{"op":"row_number","as":"i"}],"groupby":["c"]}],
"mark":{"type":"line","color":"#1a1a1a","strokeWidth":0.8,"clip":true},
"encoding":{
"x":{"field":"x","type":"quantitative","scale":{"domain":[-2,2],"nice":false,"zero":false},"axis":{"values":[-2,-1,0,1,2],"title":"x","labelFlush":false,"labelOverlap":false,"format":"d"}},
"y":{"field":"y","type":"quantitative","scale":{"domain":[-2,2],"nice":false,"zero":false},"axis":{"values":[-2,-1.5,-1,-0.5,0,0.5,1,1.5,2],"title":"y","labelFlush":false,"labelOverlap":false,"format":".1~f"}},
"detail":{"field":"c","type":"nominal"},
"order":{"field":"i","type":"quantitative"}
}
},
{
"data":{"name":"circ"},
"transform":[{"flatten":["x","y"]},{"window":[{"op":"row_number","as":"i"}],"groupby":["c"]}],
"mark":{"type":"line","color":"#1a1a1a","strokeWidth":0.9,"strokeDash":[5,3],"interpolate":"cardinal-closed","clip":true},
"encoding":{
"x":{"field":"x","type":"quantitative","scale":{"domain":[-2,2],"nice":false,"zero":false},"axis":{"values":[-2,-1,0,1,2],"title":"x","labelFlush":false,"labelOverlap":false,"format":"d"}},
"y":{"field":"y","type":"quantitative","scale":{"domain":[-2,2],"nice":false,"zero":false},"axis":{"values":[-2,-1.5,-1,-0.5,0,0.5,1,1.5,2],"title":"y","labelFlush":false,"labelOverlap":false,"format":".1~f"}},
"detail":{"field":"c","type":"nominal"},
"order":{"field":"i","type":"quantitative"}
}
}
]
}
